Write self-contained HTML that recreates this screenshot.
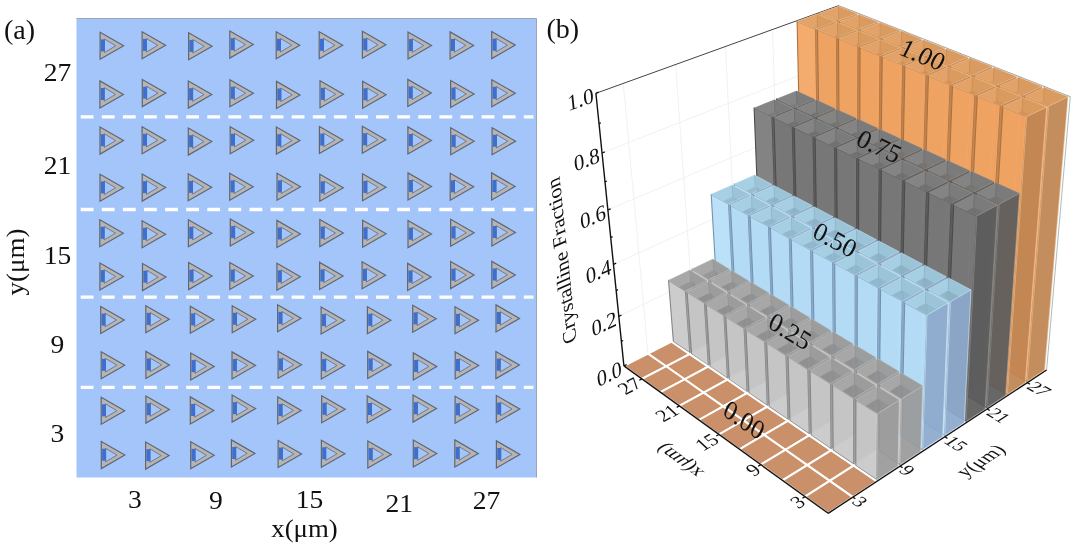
<!DOCTYPE html><html><head><meta charset="utf-8"><title>figure</title><style>html,body{margin:0;padding:0;background:#fff}body{width:1079px;height:548px;overflow:hidden;position:relative}</style></head><body>
<svg width="1079" height="548" viewBox="0 0 1079 548" style="position:absolute;left:0;top:0">
<rect width="1079" height="548" fill="#fff"/>
<g id="panel-a">
<rect x="76.5" y="18" width="460" height="459.5" fill="#a4c5f9"/>
<path d="M76.5 18.5H536.5V477.5" fill="none" stroke="#9aa6b8" stroke-width="1"/>
<defs><g id="tri"><polygon points="0.5,-13.5 0.5,13.5 24,0" fill="#b7b5b4" stroke="#5f6775" stroke-width="1.2" stroke-linejoin="miter"/><polygon points="4.8,-6.8 4.8,6.8 16.2,0" fill="#a4c5f9" stroke="#6c7485" stroke-width="0.9"/><rect x="1.3" y="-6.4" width="4"  height="12" fill="#3d6fd0"/></g></defs>
<use href="#tri" x="99.6" y="45.8"/>
<use href="#tri" x="141.6" y="45.3"/>
<use href="#tri" x="188.1" y="46.3"/>
<use href="#tri" x="229.3" y="44.6"/>
<use href="#tri" x="275.7" y="45.2"/>
<use href="#tri" x="318.7" y="45.2"/>
<use href="#tri" x="361.9" y="44.8"/>
<use href="#tri" x="407.5" y="45.5"/>
<use href="#tri" x="449.6" y="45.4"/>
<use href="#tri" x="491.2" y="45.1"/>
<use href="#tri" x="99.4" y="94.4"/>
<use href="#tri" x="141.8" y="93.1"/>
<use href="#tri" x="187.8" y="94.6"/>
<use href="#tri" x="229.4" y="93.2"/>
<use href="#tri" x="276.0" y="94.9"/>
<use href="#tri" x="319.5" y="94.3"/>
<use href="#tri" x="362.1" y="94.7"/>
<use href="#tri" x="407.3" y="92.9"/>
<use href="#tri" x="450.1" y="94.0"/>
<use href="#tri" x="491.3" y="93.2"/>
<use href="#tri" x="99.5" y="140.6"/>
<use href="#tri" x="141.6" y="140.2"/>
<use href="#tri" x="187.8" y="141.6"/>
<use href="#tri" x="229.7" y="140.2"/>
<use href="#tri" x="275.9" y="140.6"/>
<use href="#tri" x="318.9" y="140.0"/>
<use href="#tri" x="361.8" y="139.7"/>
<use href="#tri" x="407.4" y="140.4"/>
<use href="#tri" x="450.2" y="141.3"/>
<use href="#tri" x="491.6" y="141.2"/>
<use href="#tri" x="99.5" y="187.8"/>
<use href="#tri" x="141.7" y="187.6"/>
<use href="#tri" x="187.7" y="187.3"/>
<use href="#tri" x="229.2" y="186.8"/>
<use href="#tri" x="276.5" y="186.8"/>
<use href="#tri" x="319.3" y="187.8"/>
<use href="#tri" x="362.0" y="187.3"/>
<use href="#tri" x="407.5" y="186.4"/>
<use href="#tri" x="449.7" y="186.7"/>
<use href="#tri" x="491.1" y="186.4"/>
<use href="#tri" x="99.3" y="233.2"/>
<use href="#tri" x="141.6" y="234.2"/>
<use href="#tri" x="187.9" y="233.2"/>
<use href="#tri" x="229.8" y="232.5"/>
<use href="#tri" x="276.4" y="233.9"/>
<use href="#tri" x="319.3" y="233.1"/>
<use href="#tri" x="362.1" y="233.7"/>
<use href="#tri" x="407.5" y="234.1"/>
<use href="#tri" x="450.1" y="232.8"/>
<use href="#tri" x="491.4" y="232.4"/>
<use href="#tri" x="99.4" y="276.5"/>
<use href="#tri" x="142.0" y="277.1"/>
<use href="#tri" x="188.1" y="276.1"/>
<use href="#tri" x="229.3" y="276.0"/>
<use href="#tri" x="276.4" y="276.7"/>
<use href="#tri" x="319.1" y="275.9"/>
<use href="#tri" x="361.6" y="275.2"/>
<use href="#tri" x="407.1" y="276.9"/>
<use href="#tri" x="450.1" y="275.1"/>
<use href="#tri" x="491.3" y="274.9"/>
<use href="#tri" x="100.2" y="320.0"/>
<use href="#tri" x="145.3" y="319.3"/>
<use href="#tri" x="189.8" y="319.8"/>
<use href="#tri" x="231.7" y="319.2"/>
<use href="#tri" x="277.1" y="318.3"/>
<use href="#tri" x="320.6" y="320.5"/>
<use href="#tri" x="366.9" y="320.2"/>
<use href="#tri" x="412.2" y="318.8"/>
<use href="#tri" x="454.5" y="320.3"/>
<use href="#tri" x="495.5" y="318.4"/>
<use href="#tri" x="100.7" y="365.2"/>
<use href="#tri" x="145.4" y="364.9"/>
<use href="#tri" x="190.2" y="366.5"/>
<use href="#tri" x="231.5" y="365.4"/>
<use href="#tri" x="277.6" y="364.8"/>
<use href="#tri" x="320.8" y="365.5"/>
<use href="#tri" x="367.2" y="364.9"/>
<use href="#tri" x="412.8" y="366.4"/>
<use href="#tri" x="454.7" y="365.4"/>
<use href="#tri" x="495.4" y="365.1"/>
<use href="#tri" x="100.7" y="410.7"/>
<use href="#tri" x="145.4" y="409.6"/>
<use href="#tri" x="189.8" y="410.4"/>
<use href="#tri" x="231.6" y="408.6"/>
<use href="#tri" x="277.2" y="410.4"/>
<use href="#tri" x="321.2" y="409.2"/>
<use href="#tri" x="366.7" y="409.4"/>
<use href="#tri" x="412.5" y="408.6"/>
<use href="#tri" x="454.6" y="409.7"/>
<use href="#tri" x="495.8" y="409.0"/>
<use href="#tri" x="100.8" y="455.1"/>
<use href="#tri" x="145.1" y="455.6"/>
<use href="#tri" x="190.2" y="455.3"/>
<use href="#tri" x="230.9" y="453.4"/>
<use href="#tri" x="277.6" y="454.0"/>
<use href="#tri" x="320.9" y="453.7"/>
<use href="#tri" x="367.3" y="454.5"/>
<use href="#tri" x="412.8" y="453.5"/>
<use href="#tri" x="454.3" y="453.4"/>
<use href="#tri" x="495.9" y="454.4"/>
<line x1="80.7" y1="116.8" x2="533.5" y2="116.8" stroke="#fff" stroke-width="3.3" stroke-dasharray="12.8 8.3"/>
<line x1="80.7" y1="209.5" x2="533.5" y2="209.5" stroke="#fff" stroke-width="3.3" stroke-dasharray="12.8 8.3"/>
<line x1="80.7" y1="297.1" x2="533.5" y2="297.1" stroke="#fff" stroke-width="3.3" stroke-dasharray="12.8 8.3"/>
<line x1="80.7" y1="387.3" x2="533.5" y2="387.3" stroke="#fff" stroke-width="3.3" stroke-dasharray="12.8 8.3"/>
</g>
<text transform="translate(4.0 39.0) scale(1 1)" font-size="28" text-anchor="start" font-family="'Liberation Serif',serif" fill="#111">(a)</text>
<text transform="translate(546.5 38.3) scale(1 1)" font-size="28" text-anchor="start" font-family="'Liberation Serif',serif" fill="#111">(b)</text>
<text transform="translate(57.5 81.2) scale(1.06 1)" font-size="26" text-anchor="middle" font-family="'Liberation Serif',serif" fill="#111">27</text>
<text transform="translate(57.5 174.2) scale(1.06 1)" font-size="26" text-anchor="middle" font-family="'Liberation Serif',serif" fill="#111">21</text>
<text transform="translate(57.5 264.0) scale(1.06 1)" font-size="26" text-anchor="middle" font-family="'Liberation Serif',serif" fill="#111">15</text>
<text transform="translate(57.5 353.0) scale(1.06 1)" font-size="26" text-anchor="middle" font-family="'Liberation Serif',serif" fill="#111">9</text>
<text transform="translate(57.5 442.2) scale(1.06 1)" font-size="26" text-anchor="middle" font-family="'Liberation Serif',serif" fill="#111">3</text>
<text transform="translate(135.0 507.7) scale(1.06 1)" font-size="26" text-anchor="middle" font-family="'Liberation Serif',serif" fill="#111">3</text>
<text transform="translate(216.0 508.7) scale(1.06 1)" font-size="26" text-anchor="middle" font-family="'Liberation Serif',serif" fill="#111">9</text>
<text transform="translate(309.5 507.7) scale(1.06 1)" font-size="26" text-anchor="middle" font-family="'Liberation Serif',serif" fill="#111">15</text>
<text transform="translate(399.3 511.7) scale(1.06 1)" font-size="26" text-anchor="middle" font-family="'Liberation Serif',serif" fill="#111">21</text>
<text transform="translate(486.5 508.7) scale(1.06 1)" font-size="26" text-anchor="middle" font-family="'Liberation Serif',serif" fill="#111">27</text>
<text transform="translate(304.5 536.5) scale(1.08 1)" font-size="24.8" text-anchor="middle" font-family="'Liberation Serif',serif" fill="#111">x(μm)</text>
<text transform="translate(23.5,262) rotate(-90) scale(1.08 1)" font-size="25" text-anchor="middle" font-family="'Liberation Serif',serif" fill="#111">y(μm)</text>
<g id="panel-b">
<polygon points="623.9,365.9 840.1,255.9 838.7,5.6 595.9,93.3" fill="#fff"/>
<polygon points="1046.6,370.0 840.1,255.9 838.7,5.6 1070.3,96.7" fill="#fff"/>
<line x1="618.8" y1="316.3" x2="839.8" y2="209.8" stroke="#eeeeee" stroke-width="0.8"/>
<line x1="839.8" y1="209.8" x2="1050.9" y2="320.2" stroke="#eeeeee" stroke-width="0.8"/>
<line x1="613.5" y1="264.3" x2="839.6" y2="161.8" stroke="#eeeeee" stroke-width="0.8"/>
<line x1="839.6" y1="161.8" x2="1055.4" y2="268.2" stroke="#eeeeee" stroke-width="0.8"/>
<line x1="607.9" y1="209.9" x2="839.3" y2="111.9" stroke="#eeeeee" stroke-width="0.8"/>
<line x1="839.3" y1="111.9" x2="1060.1" y2="213.7" stroke="#eeeeee" stroke-width="0.8"/>
<line x1="602.1" y1="153.0" x2="839.0" y2="59.8" stroke="#eeeeee" stroke-width="0.8"/>
<line x1="839.0" y1="59.8" x2="1065.1" y2="156.6" stroke="#eeeeee" stroke-width="0.8"/>
<line x1="648.0" y1="353.7" x2="623.3" y2="83.4" stroke="#eeeeee" stroke-width="0.8"/>
<line x1="1023.6" y1="357.3" x2="1044.1" y2="86.4" stroke="#eeeeee" stroke-width="0.8"/>
<line x1="694.4" y1="330.1" x2="675.7" y2="64.4" stroke="#eeeeee" stroke-width="0.8"/>
<line x1="979.2" y1="332.7" x2="993.9" y2="66.7" stroke="#eeeeee" stroke-width="0.8"/>
<line x1="738.5" y1="307.6" x2="725.4" y2="46.5" stroke="#eeeeee" stroke-width="0.8"/>
<line x1="937.0" y1="309.4" x2="946.5" y2="48.0" stroke="#eeeeee" stroke-width="0.8"/>
<line x1="780.6" y1="286.2" x2="772.5" y2="29.5" stroke="#eeeeee" stroke-width="0.8"/>
<line x1="896.8" y1="287.2" x2="901.6" y2="30.3" stroke="#eeeeee" stroke-width="0.8"/>
<line x1="820.7" y1="265.8" x2="817.1" y2="13.3" stroke="#eeeeee" stroke-width="0.8"/>
<line x1="858.6" y1="266.1" x2="859.1" y2="13.6" stroke="#eeeeee" stroke-width="0.8"/>
<line x1="595.9" y1="93.3" x2="838.7" y2="5.6" stroke="#444" stroke-width="1"/>
<line x1="838.7" y1="5.6" x2="1070.3" y2="96.7" stroke="#888" stroke-width="0.8"/>
<line x1="1070.3" y1="96.7" x2="1046.6" y2="370.0" stroke="#9aa" stroke-width="0.8"/>
<polygon points="828.2,513.3 623.9,365.9 840.1,255.9 1046.6,370.0" fill="#f4f4f4"/>
<polygon points="839.2,275.2 822.5,265.8 819.1,13.3 837.6,20.8" fill="#f2a563" stroke="#ad713d" stroke-width="1.1" stroke-linejoin="round" fill-opacity="0.93"/>
<polygon points="839.2,275.2 856.8,266.1 857.1,13.6 837.6,20.8" fill="#bf8452" stroke="#bf8452" stroke-width="0.3" stroke-linejoin="round" fill-opacity="0.93" stroke-opacity="0.75"/>
<polygon points="837.6,20.8 819.1,13.3 838.6,6.3 857.1,13.6" fill="#d39255" fill-opacity="0.93"/>
<polygon points="819.1,13.3 819.1,13.3 838.6,6.3 838.7,18.7 835.4,19.9" fill="#e3a46a" fill-opacity="0.9"/>
<polygon points="838.6,6.3 857.1,13.6 857.1,13.6 840.9,19.6 838.7,18.7" fill="#da9b61" fill-opacity="0.9"/>
<line x1="838.6" y1="6.3" x2="838.7" y2="18.7" stroke="#ad713d" stroke-width="0.5" stroke-opacity="0.5"/>
<polygon points="837.6,20.8 819.1,13.3 838.6,6.3 857.1,13.6" fill="none" stroke="#f3cca6" stroke-width="0.7" stroke-linejoin="round" stroke-opacity="0.55"/>
<polygon points="858.1,285.9 840.9,276.2 839.6,21.6 858.6,29.3" fill="#f2a563" stroke="#ad713d" stroke-width="1.1" stroke-linejoin="round" fill-opacity="0.93"/>
<polygon points="858.1,285.9 875.7,276.5 878.1,21.9 858.6,29.3" fill="#bf8452" stroke="#bf8452" stroke-width="0.3" stroke-linejoin="round" fill-opacity="0.93" stroke-opacity="0.75"/>
<polygon points="858.6,29.3 839.6,21.6 859.1,14.4 878.1,21.9" fill="#d39255" fill-opacity="0.93"/>
<polygon points="839.6,21.6 839.6,21.6 859.1,14.4 859.0,26.9 855.8,28.1" fill="#e3a46a" fill-opacity="0.9"/>
<polygon points="859.1,14.4 878.1,21.9 878.1,21.9 861.9,28.0 859.0,26.9" fill="#da9b61" fill-opacity="0.9"/>
<line x1="859.1" y1="14.4" x2="859.0" y2="26.9" stroke="#ad713d" stroke-width="0.5" stroke-opacity="0.5"/>
<polygon points="858.6,29.3 839.6,21.6 859.1,14.4 878.1,21.9" fill="none" stroke="#f3cca6" stroke-width="0.7" stroke-linejoin="round" stroke-opacity="0.55"/>
<polygon points="877.4,296.8 859.9,286.9 860.6,30.1 880.1,38.0" fill="#f2a563" stroke="#ad713d" stroke-width="1.1" stroke-linejoin="round" fill-opacity="0.93"/>
<polygon points="877.4,296.8 895.0,287.2 899.6,30.3 880.1,38.0" fill="#bf8452" stroke="#bf8452" stroke-width="0.3" stroke-linejoin="round" fill-opacity="0.93" stroke-opacity="0.75"/>
<polygon points="880.1,38.0 860.6,30.1 880.1,22.6 899.6,30.3" fill="#d39255" fill-opacity="0.93"/>
<polygon points="860.6,30.1 860.6,30.1 860.6,30.1 880.1,22.6 880.0,35.3 876.7,36.6" fill="#e3a46a" fill-opacity="0.9"/>
<polygon points="880.1,22.6 899.6,30.3 899.6,30.3 883.4,36.7 880.0,35.3" fill="#da9b61" fill-opacity="0.9"/>
<line x1="880.1" y1="22.6" x2="880.0" y2="35.3" stroke="#ad713d" stroke-width="0.5" stroke-opacity="0.5"/>
<polygon points="880.1,38.0 860.6,30.1 880.1,22.6 899.6,30.3" fill="none" stroke="#f3cca6" stroke-width="0.7" stroke-linejoin="round" stroke-opacity="0.55"/>
<polygon points="897.2,308.0 879.2,297.9 882.1,38.8 902.2,46.9" fill="#f2a563" stroke="#ad713d" stroke-width="1.1" stroke-linejoin="round" fill-opacity="0.93"/>
<polygon points="897.2,308.0 914.8,298.2 921.7,39.0 902.2,46.9" fill="#bf8452" stroke="#bf8452" stroke-width="0.3" stroke-linejoin="round" fill-opacity="0.93" stroke-opacity="0.75"/>
<polygon points="902.2,46.9 882.1,38.8 901.7,31.1 921.7,39.0" fill="#d39255" fill-opacity="0.93"/>
<polygon points="882.1,38.8 882.1,38.8 901.7,31.1 901.4,43.9 898.1,45.2" fill="#e3a46a" fill-opacity="0.9"/>
<polygon points="901.7,31.1 921.7,39.0 921.7,39.0 905.5,45.6 901.4,43.9" fill="#da9b61" fill-opacity="0.9"/>
<line x1="901.7" y1="31.1" x2="901.4" y2="43.9" stroke="#ad713d" stroke-width="0.5" stroke-opacity="0.5"/>
<polygon points="902.2,46.9 882.1,38.8 901.7,31.1 921.7,39.0" fill="none" stroke="#f3cca6" stroke-width="0.7" stroke-linejoin="round" stroke-opacity="0.55"/>
<polygon points="917.5,319.5 899.1,309.1 904.3,47.7 924.9,56.0" fill="#f2a563" stroke="#ad713d" stroke-width="1.1" stroke-linejoin="round" fill-opacity="0.93"/>
<polygon points="917.5,319.5 935.1,309.4 944.4,48.0 924.9,56.0" fill="#bf8452" stroke="#bf8452" stroke-width="0.3" stroke-linejoin="round" fill-opacity="0.93" stroke-opacity="0.75"/>
<polygon points="924.9,56.0 904.3,47.7 923.8,39.9 944.4,48.0" fill="#d39255" fill-opacity="0.93"/>
<polygon points="904.3,47.7 904.3,47.7 923.8,39.9 923.5,52.8 920.2,54.1" fill="#e3a46a" fill-opacity="0.9"/>
<polygon points="923.8,39.9 944.4,48.0 944.4,48.0 928.2,54.7 923.5,52.8" fill="#da9b61" fill-opacity="0.9"/>
<line x1="923.8" y1="39.9" x2="923.5" y2="52.8" stroke="#ad713d" stroke-width="0.5" stroke-opacity="0.5"/>
<polygon points="924.9,56.0 904.3,47.7 923.8,39.9 944.4,48.0" fill="none" stroke="#f3cca6" stroke-width="0.7" stroke-linejoin="round" stroke-opacity="0.55"/>
<polygon points="938.3,331.3 919.4,320.6 927.1,56.9 948.3,65.5" fill="#f2a563" stroke="#ad713d" stroke-width="1.1" stroke-linejoin="round" fill-opacity="0.93"/>
<polygon points="938.3,331.3 955.9,320.9 967.8,57.2 948.3,65.5" fill="#bf8452" stroke="#bf8452" stroke-width="0.3" stroke-linejoin="round" fill-opacity="0.93" stroke-opacity="0.75"/>
<polygon points="948.3,65.5 927.1,56.9 946.6,48.8 967.8,57.2" fill="#d39255" fill-opacity="0.93"/>
<polygon points="927.1,56.9 927.1,56.9 946.6,48.8 946.1,61.9 942.8,63.3" fill="#e3a46a" fill-opacity="0.9"/>
<polygon points="946.6,48.8 967.8,57.2 967.8,57.2 951.5,64.1 946.1,61.9" fill="#da9b61" fill-opacity="0.9"/>
<line x1="946.6" y1="48.8" x2="946.1" y2="61.9" stroke="#ad713d" stroke-width="0.5" stroke-opacity="0.5"/>
<polygon points="948.3,65.5 927.1,56.9 946.6,48.8 967.8,57.2" fill="none" stroke="#f3cca6" stroke-width="0.7" stroke-linejoin="round" stroke-opacity="0.55"/>
<polygon points="959.7,343.3 940.3,332.4 950.5,66.4 972.3,75.2" fill="#f2a563" stroke="#ad713d" stroke-width="1.1" stroke-linejoin="round" fill-opacity="0.93"/>
<polygon points="959.7,343.3 977.3,332.7 991.8,66.6 972.3,75.2" fill="#bf8452" stroke="#bf8452" stroke-width="0.3" stroke-linejoin="round" fill-opacity="0.93" stroke-opacity="0.75"/>
<polygon points="972.3,75.2 950.5,66.4 970.0,58.1 991.8,66.6" fill="#d39255" fill-opacity="0.93"/>
<polygon points="950.5,66.4 950.5,66.4 970.0,58.1 969.4,71.2 966.1,72.7" fill="#e3a46a" fill-opacity="0.9"/>
<polygon points="970.0,58.1 991.8,66.6 991.8,66.6 975.6,73.7 969.4,71.2" fill="#da9b61" fill-opacity="0.9"/>
<line x1="970.0" y1="58.1" x2="969.4" y2="71.2" stroke="#ad713d" stroke-width="0.5" stroke-opacity="0.5"/>
<polygon points="972.3,75.2 950.5,66.4 970.0,58.1 991.8,66.6" fill="none" stroke="#f3cca6" stroke-width="0.7" stroke-linejoin="round" stroke-opacity="0.55"/>
<polygon points="981.6,355.7 961.7,344.5 974.6,76.1 997.0,85.1" fill="#f2a563" stroke="#ad713d" stroke-width="1.1" stroke-linejoin="round" fill-opacity="0.93"/>
<polygon points="981.6,355.7 999.2,344.8 1016.5,76.4 997.0,85.1" fill="#bf8452" stroke="#bf8452" stroke-width="0.3" stroke-linejoin="round" fill-opacity="0.93" stroke-opacity="0.75"/>
<polygon points="997.0,85.1 974.6,76.1 994.1,67.5 1016.5,76.4" fill="#d39255" fill-opacity="0.93"/>
<polygon points="974.6,76.1 974.6,76.1 994.1,67.5 993.3,80.9 990.0,82.3" fill="#e3a46a" fill-opacity="0.9"/>
<polygon points="994.1,67.5 1016.5,76.4 1016.5,76.4 1000.3,83.7 993.3,80.9" fill="#da9b61" fill-opacity="0.9"/>
<line x1="994.1" y1="67.5" x2="993.3" y2="80.9" stroke="#ad713d" stroke-width="0.5" stroke-opacity="0.5"/>
<polygon points="997.0,85.1 974.6,76.1 994.1,67.5 1016.5,76.4" fill="none" stroke="#f3cca6" stroke-width="0.7" stroke-linejoin="round" stroke-opacity="0.55"/>
<polygon points="1004.1,368.4 983.7,356.9 999.4,86.1 1022.5,95.4" fill="#f2a563" stroke="#ad713d" stroke-width="1.1" stroke-linejoin="round" fill-opacity="0.93"/>
<polygon points="1004.1,368.4 1021.6,357.2 1041.9,86.4 1022.5,95.4" fill="#bf8452" stroke="#bf8452" stroke-width="0.3" stroke-linejoin="round" fill-opacity="0.93" stroke-opacity="0.75"/>
<polygon points="1022.5,95.4 999.4,86.1 1018.8,77.3 1041.9,86.4" fill="#d39255" fill-opacity="0.93"/>
<polygon points="999.4,86.1 999.4,86.1 1018.8,77.3 1017.9,90.8 1014.7,92.3" fill="#e3a46a" fill-opacity="0.9"/>
<polygon points="1018.8,77.3 1041.9,86.4 1041.9,86.4 1025.7,93.9 1017.9,90.8" fill="#da9b61" fill-opacity="0.9"/>
<line x1="1018.8" y1="77.3" x2="1017.9" y2="90.8" stroke="#ad713d" stroke-width="0.5" stroke-opacity="0.5"/>
<polygon points="1022.5,95.4 999.4,86.1 1018.8,77.3 1041.9,86.4" fill="none" stroke="#f3cca6" stroke-width="0.7" stroke-linejoin="round" stroke-opacity="0.55"/>
<polygon points="1027.1,381.4 1006.2,369.6 1024.9,96.4 1048.7,106.0" fill="#f2a563" stroke="#ad713d" stroke-width="1.1" stroke-linejoin="round" fill-opacity="0.93"/>
<polygon points="1027.1,381.4 1044.6,370.0 1068.0,96.7 1048.7,106.0" fill="#bf8452" stroke="#f3cca6" stroke-width="0.8" stroke-linejoin="round" fill-opacity="0.93" stroke-opacity="0.75"/>
<polygon points="1048.7,106.0 1024.9,96.4 1044.3,87.3 1068.0,96.7" fill="#d39255" fill-opacity="0.93"/>
<polygon points="1024.9,96.4 1024.9,96.4 1044.3,87.3 1043.3,100.9 1040.0,102.5" fill="#e3a46a" fill-opacity="0.9"/>
<polygon points="1044.3,87.3 1068.0,96.7 1068.0,96.7 1051.9,104.4 1043.3,100.9" fill="#da9b61" fill-opacity="0.9"/>
<line x1="1044.3" y1="87.3" x2="1043.3" y2="100.9" stroke="#ad713d" stroke-width="0.5" stroke-opacity="0.5"/>
<polygon points="1048.7,106.0 1024.9,96.4 1044.3,87.3 1068.0,96.7" fill="none" stroke="#f3cca6" stroke-width="0.7" stroke-linejoin="round" stroke-opacity="0.55"/>
<polygon points="819.4,285.6 802.7,275.9 797.1,21.3 815.6,29.0" fill="#f2a563" stroke="#ad713d" stroke-width="1.1" stroke-linejoin="round" fill-opacity="0.93"/>
<polygon points="819.4,285.6 837.4,276.2 835.6,21.6 815.6,29.0" fill="#bf8452" stroke="#bf8452" stroke-width="0.3" stroke-linejoin="round" fill-opacity="0.93" stroke-opacity="0.75"/>
<polygon points="815.6,29.0 797.1,21.3 817.1,14.1 835.6,21.6" fill="#d39255" fill-opacity="0.93"/>
<polygon points="797.1,21.3 797.1,21.3 797.1,21.3 817.1,14.1 817.2,26.6 813.3,28.1" fill="#e3a46a" fill-opacity="0.9"/>
<polygon points="817.1,14.1 835.6,21.6 835.6,21.6 819.5,27.5 817.2,26.6" fill="#da9b61" fill-opacity="0.9"/>
<line x1="817.1" y1="14.1" x2="817.2" y2="26.6" stroke="#ad713d" stroke-width="0.5" stroke-opacity="0.5"/>
<polygon points="815.6,29.0 797.1,21.3 817.1,14.1 835.6,21.6" fill="none" stroke="#f3cca6" stroke-width="0.7" stroke-linejoin="round" stroke-opacity="0.55"/>
<polygon points="838.2,296.5 821.1,286.6 817.5,29.8 836.5,37.7" fill="#f2a563" stroke="#ad713d" stroke-width="1.1" stroke-linejoin="round" fill-opacity="0.93"/>
<polygon points="838.2,296.5 856.2,286.9 856.5,30.0 836.5,37.7" fill="#bf8452" stroke="#bf8452" stroke-width="0.3" stroke-linejoin="round" fill-opacity="0.93" stroke-opacity="0.75"/>
<polygon points="836.5,37.7 817.5,29.8 837.5,22.4 856.5,30.0" fill="#d39255" fill-opacity="0.93"/>
<polygon points="817.5,29.8 817.5,29.8 837.5,22.4 837.6,35.0 833.7,36.5" fill="#e3a46a" fill-opacity="0.9"/>
<polygon points="837.5,22.4 856.5,30.0 856.5,30.0 840.4,36.2 837.6,35.0" fill="#da9b61" fill-opacity="0.9"/>
<line x1="837.5" y1="22.4" x2="837.6" y2="35.0" stroke="#ad713d" stroke-width="0.5" stroke-opacity="0.5"/>
<polygon points="836.5,37.7 817.5,29.8 837.5,22.4 856.5,30.0" fill="none" stroke="#f3cca6" stroke-width="0.7" stroke-linejoin="round" stroke-opacity="0.55"/>
<polygon points="857.5,307.7 840.0,297.5 838.5,38.5 858.0,46.6" fill="#f2a563" stroke="#ad713d" stroke-width="1.1" stroke-linejoin="round" fill-opacity="0.93"/>
<polygon points="857.5,307.7 875.6,297.8 878.0,38.7 858.0,46.6" fill="#bf8452" stroke="#bf8452" stroke-width="0.3" stroke-linejoin="round" fill-opacity="0.93" stroke-opacity="0.75"/>
<polygon points="858.0,46.6 838.5,38.5 858.5,30.8 878.0,38.7" fill="#d39255" fill-opacity="0.93"/>
<polygon points="838.5,38.5 838.5,38.5 858.5,30.8 858.5,43.6 854.6,45.2" fill="#e3a46a" fill-opacity="0.9"/>
<polygon points="858.5,30.8 878.0,38.7 878.0,38.7 861.9,45.0 858.5,43.6" fill="#da9b61" fill-opacity="0.9"/>
<line x1="858.5" y1="30.8" x2="858.5" y2="43.6" stroke="#ad713d" stroke-width="0.5" stroke-opacity="0.5"/>
<polygon points="858.0,46.6 838.5,38.5 858.5,30.8 878.0,38.7" fill="none" stroke="#f3cca6" stroke-width="0.7" stroke-linejoin="round" stroke-opacity="0.55"/>
<polygon points="877.3,319.1 859.4,308.7 860.0,47.4 880.1,55.7" fill="#f2a563" stroke="#ad713d" stroke-width="1.1" stroke-linejoin="round" fill-opacity="0.93"/>
<polygon points="877.3,319.1 895.4,309.1 900.1,47.7 880.1,55.7" fill="#bf8452" stroke="#bf8452" stroke-width="0.3" stroke-linejoin="round" fill-opacity="0.93" stroke-opacity="0.75"/>
<polygon points="880.1,55.7 860.0,47.4 880.1,39.6 900.1,47.7" fill="#d39255" fill-opacity="0.93"/>
<polygon points="860.0,47.4 860.0,47.4 860.0,47.4 880.1,39.6 879.9,52.5 876.0,54.0" fill="#e3a46a" fill-opacity="0.9"/>
<polygon points="880.1,39.6 900.1,47.7 900.1,47.7 884.0,54.2 879.9,52.5" fill="#da9b61" fill-opacity="0.9"/>
<line x1="880.1" y1="39.6" x2="879.9" y2="52.5" stroke="#ad713d" stroke-width="0.5" stroke-opacity="0.5"/>
<polygon points="880.1,55.7 860.0,47.4 880.1,39.6 900.1,47.7" fill="none" stroke="#f3cca6" stroke-width="0.7" stroke-linejoin="round" stroke-opacity="0.55"/>
<polygon points="897.6,330.9 879.2,320.2 882.2,56.6 902.8,65.1" fill="#f2a563" stroke="#ad713d" stroke-width="1.1" stroke-linejoin="round" fill-opacity="0.93"/>
<polygon points="897.6,330.9 915.7,320.6 922.9,56.9 902.8,65.1" fill="#bf8452" stroke="#bf8452" stroke-width="0.3" stroke-linejoin="round" fill-opacity="0.93" stroke-opacity="0.75"/>
<polygon points="902.8,65.1 882.2,56.6 902.2,48.5 922.9,56.9" fill="#d39255" fill-opacity="0.93"/>
<polygon points="882.2,56.6 882.2,56.6 902.2,48.5 902.0,61.6 898.1,63.2" fill="#e3a46a" fill-opacity="0.9"/>
<polygon points="902.2,48.5 922.9,56.9 922.9,56.9 906.7,63.5 902.0,61.6" fill="#da9b61" fill-opacity="0.9"/>
<line x1="902.2" y1="48.5" x2="902.0" y2="61.6" stroke="#ad713d" stroke-width="0.5" stroke-opacity="0.5"/>
<polygon points="902.8,65.1 882.2,56.6 902.2,48.5 922.9,56.9" fill="none" stroke="#f3cca6" stroke-width="0.7" stroke-linejoin="round" stroke-opacity="0.55"/>
<polygon points="918.5,342.9 899.6,332.0 904.9,66.0 926.2,74.8" fill="#f2a563" stroke="#ad713d" stroke-width="1.1" stroke-linejoin="round" fill-opacity="0.93"/>
<polygon points="918.5,342.9 936.5,332.3 946.2,66.3 926.2,74.8" fill="#bf8452" stroke="#bf8452" stroke-width="0.3" stroke-linejoin="round" fill-opacity="0.93" stroke-opacity="0.75"/>
<polygon points="926.2,74.8 904.9,66.0 925.0,57.7 946.2,66.3" fill="#d39255" fill-opacity="0.93"/>
<polygon points="904.9,66.0 904.9,66.0 925.0,57.7 924.6,70.9 920.7,72.6" fill="#e3a46a" fill-opacity="0.9"/>
<polygon points="925.0,57.7 946.2,66.3 946.2,66.3 930.1,73.2 924.6,70.9" fill="#da9b61" fill-opacity="0.9"/>
<line x1="925.0" y1="57.7" x2="924.6" y2="70.9" stroke="#ad713d" stroke-width="0.5" stroke-opacity="0.5"/>
<polygon points="926.2,74.8 904.9,66.0 925.0,57.7 946.2,66.3" fill="none" stroke="#f3cca6" stroke-width="0.7" stroke-linejoin="round" stroke-opacity="0.55"/>
<polygon points="939.8,355.3 920.4,344.1 928.4,75.7 950.2,84.8" fill="#f2a563" stroke="#ad713d" stroke-width="1.1" stroke-linejoin="round" fill-opacity="0.93"/>
<polygon points="939.8,355.3 957.9,344.4 970.3,76.0 950.2,84.8" fill="#bf8452" stroke="#bf8452" stroke-width="0.3" stroke-linejoin="round" fill-opacity="0.93" stroke-opacity="0.75"/>
<polygon points="950.2,84.8 928.4,75.7 948.4,67.2 970.3,76.0" fill="#d39255" fill-opacity="0.93"/>
<polygon points="928.4,75.7 928.4,75.7 948.4,67.2 947.9,80.5 944.0,82.2" fill="#e3a46a" fill-opacity="0.9"/>
<polygon points="948.4,67.2 970.3,76.0 970.3,76.0 954.1,83.1 947.9,80.5" fill="#da9b61" fill-opacity="0.9"/>
<line x1="948.4" y1="67.2" x2="947.9" y2="80.5" stroke="#ad713d" stroke-width="0.5" stroke-opacity="0.5"/>
<polygon points="950.2,84.8 928.4,75.7 948.4,67.2 970.3,76.0" fill="none" stroke="#f3cca6" stroke-width="0.7" stroke-linejoin="round" stroke-opacity="0.55"/>
<polygon points="961.7,368.0 941.8,356.5 952.5,85.7 975.0,95.1" fill="#f2a563" stroke="#ad713d" stroke-width="1.1" stroke-linejoin="round" fill-opacity="0.93"/>
<polygon points="961.7,368.0 979.8,356.8 995.0,86.0 975.0,95.1" fill="#bf8452" stroke="#bf8452" stroke-width="0.3" stroke-linejoin="round" fill-opacity="0.93" stroke-opacity="0.75"/>
<polygon points="975.0,95.1 952.5,85.7 972.5,77.0 995.0,86.0" fill="#d39255" fill-opacity="0.93"/>
<polygon points="952.5,85.7 952.5,85.7 972.5,77.0 971.9,90.4 968.0,92.2" fill="#e3a46a" fill-opacity="0.9"/>
<polygon points="972.5,77.0 995.0,86.0 995.0,86.0 978.9,93.3 971.9,90.4" fill="#da9b61" fill-opacity="0.9"/>
<line x1="972.5" y1="77.0" x2="971.9" y2="90.4" stroke="#ad713d" stroke-width="0.5" stroke-opacity="0.5"/>
<polygon points="975.0,95.1 952.5,85.7 972.5,77.0 995.0,86.0" fill="none" stroke="#f3cca6" stroke-width="0.7" stroke-linejoin="round" stroke-opacity="0.55"/>
<polygon points="984.2,381.0 963.8,369.2 977.3,96.0 1000.4,105.6" fill="#f2a563" stroke="#ad713d" stroke-width="1.1" stroke-linejoin="round" fill-opacity="0.93"/>
<polygon points="984.2,381.0 1002.2,369.6 1020.4,96.3 1000.4,105.6" fill="#bf8452" stroke="#bf8452" stroke-width="0.3" stroke-linejoin="round" fill-opacity="0.93" stroke-opacity="0.75"/>
<polygon points="1000.4,105.6 977.3,96.0 997.3,87.0 1020.4,96.3" fill="#d39255" fill-opacity="0.93"/>
<polygon points="977.3,96.0 977.3,96.0 997.3,87.0 996.5,100.6 992.6,102.4" fill="#e3a46a" fill-opacity="0.9"/>
<polygon points="997.3,87.0 1020.4,96.3 1020.4,96.3 1004.4,103.8 996.5,100.6" fill="#da9b61" fill-opacity="0.9"/>
<line x1="997.3" y1="87.0" x2="996.5" y2="100.6" stroke="#ad713d" stroke-width="0.5" stroke-opacity="0.5"/>
<polygon points="1000.4,105.6 977.3,96.0 997.3,87.0 1020.4,96.3" fill="none" stroke="#f3cca6" stroke-width="0.7" stroke-linejoin="round" stroke-opacity="0.55"/>
<polygon points="1007.4,394.4 986.4,382.3 1002.9,106.6 1026.7,116.5" fill="#f2a563" stroke="#ad713d" stroke-width="1.1" stroke-linejoin="round" fill-opacity="0.93"/>
<polygon points="1007.4,394.4 1025.3,382.6 1046.7,107.0 1026.7,116.5" fill="#bf8452" stroke="#f3cca6" stroke-width="0.8" stroke-linejoin="round" fill-opacity="0.93" stroke-opacity="0.75"/>
<polygon points="1026.7,116.5 1002.9,106.6 1022.8,97.3 1046.7,107.0" fill="#d39255" fill-opacity="0.93"/>
<polygon points="1002.9,106.6 1002.9,106.6 1022.8,97.3 1021.9,111.1 1018.0,112.9" fill="#e3a46a" fill-opacity="0.9"/>
<polygon points="1022.8,97.3 1046.7,107.0 1046.7,107.0 1030.6,114.6 1021.9,111.1" fill="#da9b61" fill-opacity="0.9"/>
<line x1="1022.8" y1="97.3" x2="1021.9" y2="111.1" stroke="#ad713d" stroke-width="0.5" stroke-opacity="0.5"/>
<polygon points="1026.7,116.5 1002.9,106.6 1022.8,97.3 1046.7,107.0" fill="none" stroke="#f3cca6" stroke-width="0.7" stroke-linejoin="round" stroke-opacity="0.55"/>
<polygon points="799.1,296.1 782.4,286.2 776.6,98.9 794.6,107.4" fill="#7a7a7a" stroke="#4c4c4c" stroke-width="1.1" stroke-linejoin="round" fill-opacity="0.93"/>
<polygon points="799.1,296.1 817.5,286.5 814.6,99.2 794.6,107.4" fill="#5b5b5b" stroke="#5b5b5b" stroke-width="0.3" stroke-linejoin="round" fill-opacity="0.93" stroke-opacity="0.75"/>
<polygon points="794.6,107.4 776.6,98.9 796.5,90.9 814.6,99.2" fill="#727272" fill-opacity="0.93"/>
<polygon points="776.6,98.9 776.6,98.9 796.5,90.9 796.8,102.9 790.5,105.4" fill="#868686" fill-opacity="0.9"/>
<polygon points="796.5,90.9 814.6,99.2 814.6,99.2 800.9,104.8 796.8,102.9" fill="#7c7c7c" fill-opacity="0.9"/>
<line x1="796.5" y1="90.9" x2="796.8" y2="102.9" stroke="#4c4c4c" stroke-width="0.5" stroke-opacity="0.5"/>
<polygon points="794.6,107.4 776.6,98.9 796.5,90.9 814.6,99.2" fill="none" stroke="#9a9a9a" stroke-width="0.7" stroke-linejoin="round" stroke-opacity="0.55"/>
<polygon points="817.9,307.3 800.8,297.2 796.5,108.2 814.9,116.9" fill="#7a7a7a" stroke="#4c4c4c" stroke-width="1.1" stroke-linejoin="round" fill-opacity="0.93"/>
<polygon points="817.9,307.3 836.3,297.5 834.9,108.5 814.9,116.9" fill="#5b5b5b" stroke="#5b5b5b" stroke-width="0.3" stroke-linejoin="round" fill-opacity="0.93" stroke-opacity="0.75"/>
<polygon points="814.9,116.9 796.5,108.2 816.4,100.0 834.9,108.5" fill="#727272" fill-opacity="0.93"/>
<polygon points="796.5,108.2 796.5,108.2 816.4,100.0 816.6,112.1 810.3,114.8" fill="#868686" fill-opacity="0.9"/>
<polygon points="816.4,100.0 834.9,108.5 834.9,108.5 821.2,114.3 816.6,112.1" fill="#7c7c7c" fill-opacity="0.9"/>
<line x1="816.4" y1="100.0" x2="816.6" y2="112.1" stroke="#4c4c4c" stroke-width="0.5" stroke-opacity="0.5"/>
<polygon points="814.9,116.9 796.5,108.2 816.4,100.0 834.9,108.5" fill="none" stroke="#9a9a9a" stroke-width="0.7" stroke-linejoin="round" stroke-opacity="0.55"/>
<polygon points="837.2,318.8 819.7,308.4 816.8,117.9 835.8,126.8" fill="#7a7a7a" stroke="#4c4c4c" stroke-width="1.1" stroke-linejoin="round" fill-opacity="0.93"/>
<polygon points="837.2,318.8 855.7,308.7 855.8,118.1 835.8,126.8" fill="#5b5b5b" stroke="#5b5b5b" stroke-width="0.3" stroke-linejoin="round" fill-opacity="0.93" stroke-opacity="0.75"/>
<polygon points="835.8,126.8 816.8,117.9 836.8,109.4 855.8,118.1" fill="#727272" fill-opacity="0.93"/>
<polygon points="816.8,117.9 816.8,117.9 836.8,109.4 836.9,121.6 830.6,124.3" fill="#868686" fill-opacity="0.9"/>
<polygon points="836.8,109.4 855.8,118.1 855.8,118.1 842.1,124.1 836.9,121.6" fill="#7c7c7c" fill-opacity="0.9"/>
<line x1="836.8" y1="109.4" x2="836.9" y2="121.6" stroke="#4c4c4c" stroke-width="0.5" stroke-opacity="0.5"/>
<polygon points="835.8,126.8 816.8,117.9 836.8,109.4 855.8,118.1" fill="none" stroke="#9a9a9a" stroke-width="0.7" stroke-linejoin="round" stroke-opacity="0.55"/>
<polygon points="857.0,330.5 839.0,319.8 837.8,127.7 857.3,136.9" fill="#7a7a7a" stroke="#4c4c4c" stroke-width="1.1" stroke-linejoin="round" fill-opacity="0.93"/>
<polygon points="857.0,330.5 875.5,320.2 877.3,128.0 857.3,136.9" fill="#5b5b5b" stroke="#5b5b5b" stroke-width="0.3" stroke-linejoin="round" fill-opacity="0.93" stroke-opacity="0.75"/>
<polygon points="857.3,136.9 837.8,127.7 857.8,119.1 877.3,128.0" fill="#727272" fill-opacity="0.93"/>
<polygon points="837.8,127.7 837.8,127.7 857.8,119.1 857.8,131.4 851.5,134.2" fill="#868686" fill-opacity="0.9"/>
<polygon points="857.8,119.1 877.3,128.0 877.3,128.0 863.6,134.1 857.8,131.4" fill="#7c7c7c" fill-opacity="0.9"/>
<line x1="857.8" y1="119.1" x2="857.8" y2="131.4" stroke="#4c4c4c" stroke-width="0.5" stroke-opacity="0.5"/>
<polygon points="857.3,136.9 837.8,127.7 857.8,119.1 877.3,128.0" fill="none" stroke="#9a9a9a" stroke-width="0.7" stroke-linejoin="round" stroke-opacity="0.55"/>
<polygon points="877.3,342.6 858.8,331.6 859.3,137.9 879.3,147.3" fill="#7a7a7a" stroke="#4c4c4c" stroke-width="1.1" stroke-linejoin="round" fill-opacity="0.93"/>
<polygon points="877.3,342.6 895.8,332.0 899.4,138.2 879.3,147.3" fill="#5b5b5b" stroke="#5b5b5b" stroke-width="0.3" stroke-linejoin="round" fill-opacity="0.93" stroke-opacity="0.75"/>
<polygon points="879.3,147.3 859.3,137.9 879.3,129.0 899.4,138.2" fill="#727272" fill-opacity="0.93"/>
<polygon points="859.3,137.9 859.3,137.9 879.3,129.0 879.2,141.4 872.9,144.3" fill="#868686" fill-opacity="0.9"/>
<polygon points="879.3,129.0 899.4,138.2 899.4,138.2 885.6,144.4 879.2,141.4" fill="#7c7c7c" fill-opacity="0.9"/>
<line x1="879.3" y1="129.0" x2="879.2" y2="141.4" stroke="#4c4c4c" stroke-width="0.5" stroke-opacity="0.5"/>
<polygon points="879.3,147.3 859.3,137.9 879.3,129.0 899.4,138.2" fill="none" stroke="#9a9a9a" stroke-width="0.7" stroke-linejoin="round" stroke-opacity="0.55"/>
<polygon points="898.1,354.9 879.2,343.7 881.4,148.3 902.0,158.0" fill="#7a7a7a" stroke="#4c4c4c" stroke-width="1.1" stroke-linejoin="round" fill-opacity="0.93"/>
<polygon points="898.1,354.9 916.6,344.0 922.0,148.6 902.0,158.0" fill="#5b5b5b" stroke="#5b5b5b" stroke-width="0.3" stroke-linejoin="round" fill-opacity="0.93" stroke-opacity="0.75"/>
<polygon points="902.0,158.0 881.4,148.3 901.4,139.1 922.0,148.6" fill="#727272" fill-opacity="0.93"/>
<polygon points="881.4,148.3 881.4,148.3 901.4,139.1 901.2,151.7 894.9,154.6" fill="#868686" fill-opacity="0.9"/>
<polygon points="901.4,139.1 922.0,148.6 922.0,148.6 908.3,155.0 901.2,151.7" fill="#7c7c7c" fill-opacity="0.9"/>
<line x1="901.4" y1="139.1" x2="901.2" y2="151.7" stroke="#4c4c4c" stroke-width="0.5" stroke-opacity="0.5"/>
<polygon points="902.0,158.0 881.4,148.3 901.4,139.1 922.0,148.6" fill="none" stroke="#9a9a9a" stroke-width="0.7" stroke-linejoin="round" stroke-opacity="0.55"/>
<polygon points="919.5,367.6 900.1,356.1 904.1,159.0 925.3,169.0" fill="#7a7a7a" stroke="#4c4c4c" stroke-width="1.1" stroke-linejoin="round" fill-opacity="0.93"/>
<polygon points="919.5,367.6 937.9,356.4 945.3,159.3 925.3,169.0" fill="#5b5b5b" stroke="#5b5b5b" stroke-width="0.3" stroke-linejoin="round" fill-opacity="0.93" stroke-opacity="0.75"/>
<polygon points="925.3,169.0 904.1,159.0 924.2,149.6 945.3,159.3" fill="#727272" fill-opacity="0.93"/>
<polygon points="904.1,159.0 904.1,159.0 924.2,149.6 923.8,162.3 917.5,165.3" fill="#868686" fill-opacity="0.9"/>
<polygon points="924.2,149.6 945.3,159.3 945.3,159.3 931.6,165.9 923.8,162.3" fill="#7c7c7c" fill-opacity="0.9"/>
<line x1="924.2" y1="149.6" x2="923.8" y2="162.3" stroke="#4c4c4c" stroke-width="0.5" stroke-opacity="0.5"/>
<polygon points="925.3,169.0 904.1,159.0 924.2,149.6 945.3,159.3" fill="none" stroke="#9a9a9a" stroke-width="0.7" stroke-linejoin="round" stroke-opacity="0.55"/>
<polygon points="941.4,380.6 921.5,368.8 927.5,170.0 949.3,180.3" fill="#7a7a7a" stroke="#4c4c4c" stroke-width="1.1" stroke-linejoin="round" fill-opacity="0.93"/>
<polygon points="941.4,380.6 959.9,369.2 969.3,170.4 949.3,180.3" fill="#5b5b5b" stroke="#5b5b5b" stroke-width="0.3" stroke-linejoin="round" fill-opacity="0.93" stroke-opacity="0.75"/>
<polygon points="949.3,180.3 927.5,170.0 947.6,160.4 969.3,170.4" fill="#727272" fill-opacity="0.93"/>
<polygon points="927.5,170.0 927.5,170.0 947.6,160.4 947.1,173.2 940.7,176.3" fill="#868686" fill-opacity="0.9"/>
<polygon points="947.6,160.4 969.3,170.4 969.3,170.4 955.6,177.2 947.1,173.2" fill="#7c7c7c" fill-opacity="0.9"/>
<line x1="947.6" y1="160.4" x2="947.1" y2="173.2" stroke="#4c4c4c" stroke-width="0.5" stroke-opacity="0.5"/>
<polygon points="949.3,180.3 927.5,170.0 947.6,160.4 969.3,170.4" fill="none" stroke="#9a9a9a" stroke-width="0.7" stroke-linejoin="round" stroke-opacity="0.55"/>
<polygon points="963.9,394.0 943.5,381.8 951.6,181.4 974.0,192.0" fill="#7a7a7a" stroke="#4c4c4c" stroke-width="1.1" stroke-linejoin="round" fill-opacity="0.93"/>
<polygon points="963.9,394.0 982.4,382.2 994.0,181.7 974.0,192.0" fill="#5b5b5b" stroke="#5b5b5b" stroke-width="0.3" stroke-linejoin="round" fill-opacity="0.93" stroke-opacity="0.75"/>
<polygon points="974.0,192.0 951.6,181.4 971.6,171.4 994.0,181.7" fill="#727272" fill-opacity="0.93"/>
<polygon points="951.6,181.4 951.6,181.4 971.6,171.4 971.0,184.4 964.6,187.6" fill="#868686" fill-opacity="0.9"/>
<polygon points="971.6,171.4 994.0,181.7 994.0,181.7 980.3,188.7 971.0,184.4" fill="#7c7c7c" fill-opacity="0.9"/>
<line x1="971.6" y1="171.4" x2="971.0" y2="184.4" stroke="#4c4c4c" stroke-width="0.5" stroke-opacity="0.5"/>
<polygon points="974.0,192.0 951.6,181.4 971.6,171.4 994.0,181.7" fill="none" stroke="#9a9a9a" stroke-width="0.7" stroke-linejoin="round" stroke-opacity="0.55"/>
<polygon points="987.0,407.7 966.0,395.2 976.3,193.1 999.4,204.0" fill="#7a7a7a" stroke="#4c4c4c" stroke-width="1.1" stroke-linejoin="round" fill-opacity="0.93"/>
<polygon points="987.0,407.7 1005.5,395.6 1019.4,193.4 999.4,204.0" fill="#5b5b5b" stroke="#9a9a9a" stroke-width="0.8" stroke-linejoin="round" fill-opacity="0.93" stroke-opacity="0.75"/>
<polygon points="999.4,204.0 976.3,193.1 996.3,182.8 1019.4,193.4" fill="#727272" fill-opacity="0.93"/>
<polygon points="976.3,193.1 976.3,193.1 996.3,182.8 995.6,195.9 989.3,199.2" fill="#868686" fill-opacity="0.9"/>
<polygon points="996.3,182.8 1019.4,193.4 1019.4,193.4 1005.8,200.6 995.6,195.9" fill="#7c7c7c" fill-opacity="0.9"/>
<line x1="996.3" y1="182.8" x2="995.6" y2="195.9" stroke="#4c4c4c" stroke-width="0.5" stroke-opacity="0.5"/>
<polygon points="999.4,204.0 976.3,193.1 996.3,182.8 1019.4,193.4" fill="none" stroke="#9a9a9a" stroke-width="0.7" stroke-linejoin="round" stroke-opacity="0.55"/>
<polygon points="778.3,307.0 761.6,296.8 754.1,107.9 772.0,116.6" fill="#7a7a7a" stroke="#4c4c4c" stroke-width="1.1" stroke-linejoin="round" fill-opacity="0.93"/>
<polygon points="778.3,307.0 797.1,297.1 792.5,108.2 772.0,116.6" fill="#5b5b5b" stroke="#5b5b5b" stroke-width="0.3" stroke-linejoin="round" fill-opacity="0.93" stroke-opacity="0.75"/>
<polygon points="772.0,116.6 754.1,107.9 774.5,99.7 792.5,108.2" fill="#727272" fill-opacity="0.93"/>
<polygon points="754.1,107.9 754.1,107.9 774.5,99.7 774.9,111.8 767.9,114.7" fill="#868686" fill-opacity="0.9"/>
<polygon points="774.5,99.7 792.5,108.2 792.5,108.2 779.0,113.8 774.9,111.8" fill="#7c7c7c" fill-opacity="0.9"/>
<line x1="774.5" y1="99.7" x2="774.9" y2="111.8" stroke="#4c4c4c" stroke-width="0.5" stroke-opacity="0.5"/>
<polygon points="772.0,116.6 754.1,107.9 774.5,99.7 792.5,108.2" fill="none" stroke="#9a9a9a" stroke-width="0.7" stroke-linejoin="round" stroke-opacity="0.55"/>
<polygon points="797.1,318.4 780.0,308.0 773.9,117.5 792.3,126.5" fill="#7a7a7a" stroke="#4c4c4c" stroke-width="1.1" stroke-linejoin="round" fill-opacity="0.93"/>
<polygon points="797.1,318.4 816.0,308.3 812.8,117.8 792.3,126.5" fill="#5b5b5b" stroke="#5b5b5b" stroke-width="0.3" stroke-linejoin="round" fill-opacity="0.93" stroke-opacity="0.75"/>
<polygon points="792.3,126.5 773.9,117.5 794.4,109.1 812.8,117.8" fill="#727272" fill-opacity="0.93"/>
<polygon points="773.9,117.5 773.9,117.5 794.4,109.1 794.7,121.3 787.7,124.2" fill="#868686" fill-opacity="0.9"/>
<polygon points="794.4,109.1 812.8,117.8 812.8,117.8 799.3,123.5 794.7,121.3" fill="#7c7c7c" fill-opacity="0.9"/>
<line x1="794.4" y1="109.1" x2="794.7" y2="121.3" stroke="#4c4c4c" stroke-width="0.5" stroke-opacity="0.5"/>
<polygon points="792.3,126.5 773.9,117.5 794.4,109.1 812.8,117.8" fill="none" stroke="#9a9a9a" stroke-width="0.7" stroke-linejoin="round" stroke-opacity="0.55"/>
<polygon points="816.3,330.1 798.8,319.5 794.2,127.4 813.1,136.6" fill="#7a7a7a" stroke="#4c4c4c" stroke-width="1.1" stroke-linejoin="round" fill-opacity="0.93"/>
<polygon points="816.3,330.1 835.3,319.8 833.7,127.7 813.1,136.6" fill="#5b5b5b" stroke="#5b5b5b" stroke-width="0.3" stroke-linejoin="round" fill-opacity="0.93" stroke-opacity="0.75"/>
<polygon points="813.1,136.6 794.2,127.4 814.8,118.7 833.7,127.7" fill="#727272" fill-opacity="0.93"/>
<polygon points="794.2,127.4 794.2,127.4 814.8,118.7 814.9,131.1 808.0,134.1" fill="#868686" fill-opacity="0.9"/>
<polygon points="814.8,118.7 833.7,127.7 833.7,127.7 820.1,133.6 814.9,131.1" fill="#7c7c7c" fill-opacity="0.9"/>
<line x1="814.8" y1="118.7" x2="814.9" y2="131.1" stroke="#4c4c4c" stroke-width="0.5" stroke-opacity="0.5"/>
<polygon points="813.1,136.6 794.2,127.4 814.8,118.7 833.7,127.7" fill="none" stroke="#9a9a9a" stroke-width="0.7" stroke-linejoin="round" stroke-opacity="0.55"/>
<polygon points="836.1,342.2 818.2,331.2 815.1,137.5 834.6,147.0" fill="#7a7a7a" stroke="#4c4c4c" stroke-width="1.1" stroke-linejoin="round" fill-opacity="0.93"/>
<polygon points="836.1,342.2 855.0,331.6 855.2,137.8 834.6,147.0" fill="#5b5b5b" stroke="#5b5b5b" stroke-width="0.3" stroke-linejoin="round" fill-opacity="0.93" stroke-opacity="0.75"/>
<polygon points="834.6,147.0 815.1,137.5 835.7,128.6 855.2,137.8" fill="#727272" fill-opacity="0.93"/>
<polygon points="815.1,137.5 815.1,137.5 835.7,128.6 835.8,141.1 828.8,144.2" fill="#868686" fill-opacity="0.9"/>
<polygon points="835.7,128.6 855.2,137.8 855.2,137.8 841.6,143.9 835.8,141.1" fill="#7c7c7c" fill-opacity="0.9"/>
<line x1="835.7" y1="128.6" x2="835.8" y2="141.1" stroke="#4c4c4c" stroke-width="0.5" stroke-opacity="0.5"/>
<polygon points="834.6,147.0 815.1,137.5 835.7,128.6 855.2,137.8" fill="none" stroke="#9a9a9a" stroke-width="0.7" stroke-linejoin="round" stroke-opacity="0.55"/>
<polygon points="856.4,354.5 838.0,343.3 836.6,148.0 856.6,157.7" fill="#7a7a7a" stroke="#4c4c4c" stroke-width="1.1" stroke-linejoin="round" fill-opacity="0.93"/>
<polygon points="856.4,354.5 875.3,343.7 877.2,148.3 856.6,157.7" fill="#5b5b5b" stroke="#5b5b5b" stroke-width="0.3" stroke-linejoin="round" fill-opacity="0.93" stroke-opacity="0.75"/>
<polygon points="856.6,157.7 836.6,148.0 857.2,138.8 877.2,148.3" fill="#727272" fill-opacity="0.93"/>
<polygon points="836.6,148.0 836.6,148.0 857.2,138.8 857.2,151.4 850.2,154.5" fill="#868686" fill-opacity="0.9"/>
<polygon points="857.2,138.8 877.2,148.3 877.2,148.3 863.6,154.5 857.2,151.4" fill="#7c7c7c" fill-opacity="0.9"/>
<line x1="857.2" y1="138.8" x2="857.2" y2="151.4" stroke="#4c4c4c" stroke-width="0.5" stroke-opacity="0.5"/>
<polygon points="856.6,157.7 836.6,148.0 857.2,138.8 877.2,148.3" fill="none" stroke="#9a9a9a" stroke-width="0.7" stroke-linejoin="round" stroke-opacity="0.55"/>
<polygon points="877.2,367.2 858.3,355.7 858.7,158.7 879.3,168.6" fill="#7a7a7a" stroke="#4c4c4c" stroke-width="1.1" stroke-linejoin="round" fill-opacity="0.93"/>
<polygon points="877.2,367.2 896.2,356.0 899.9,159.0 879.3,168.6" fill="#5b5b5b" stroke="#5b5b5b" stroke-width="0.3" stroke-linejoin="round" fill-opacity="0.93" stroke-opacity="0.75"/>
<polygon points="879.3,168.6 858.7,158.7 879.3,149.3 899.9,159.0" fill="#727272" fill-opacity="0.93"/>
<polygon points="858.7,158.7 858.7,158.7 879.3,149.3 879.2,161.9 872.2,165.2" fill="#868686" fill-opacity="0.9"/>
<polygon points="879.3,149.3 899.9,159.0 899.9,159.0 886.3,165.4 879.2,161.9" fill="#7c7c7c" fill-opacity="0.9"/>
<line x1="879.3" y1="149.3" x2="879.2" y2="161.9" stroke="#4c4c4c" stroke-width="0.5" stroke-opacity="0.5"/>
<polygon points="879.3,168.6 858.7,158.7 879.3,149.3 899.9,159.0" fill="none" stroke="#9a9a9a" stroke-width="0.7" stroke-linejoin="round" stroke-opacity="0.55"/>
<polygon points="898.6,380.2 879.2,368.4 881.4,169.7 902.6,179.9" fill="#7a7a7a" stroke="#4c4c4c" stroke-width="1.1" stroke-linejoin="round" fill-opacity="0.93"/>
<polygon points="898.6,380.2 917.5,368.8 923.2,170.0 902.6,179.9" fill="#5b5b5b" stroke="#5b5b5b" stroke-width="0.3" stroke-linejoin="round" fill-opacity="0.93" stroke-opacity="0.75"/>
<polygon points="902.6,179.9 881.4,169.7 902.0,160.0 923.2,170.0" fill="#727272" fill-opacity="0.93"/>
<polygon points="881.4,169.7 881.4,169.7 902.0,160.0 901.8,172.8 894.8,176.2" fill="#868686" fill-opacity="0.9"/>
<polygon points="902.0,160.0 923.2,170.0 923.2,170.0 909.6,176.6 901.8,172.8" fill="#7c7c7c" fill-opacity="0.9"/>
<line x1="902.0" y1="160.0" x2="901.8" y2="172.8" stroke="#4c4c4c" stroke-width="0.5" stroke-opacity="0.5"/>
<polygon points="902.6,179.9 881.4,169.7 902.0,160.0 923.2,170.0" fill="none" stroke="#9a9a9a" stroke-width="0.7" stroke-linejoin="round" stroke-opacity="0.55"/>
<polygon points="920.5,393.6 900.6,381.4 904.8,181.0 926.6,191.6" fill="#7a7a7a" stroke="#4c4c4c" stroke-width="1.1" stroke-linejoin="round" fill-opacity="0.93"/>
<polygon points="920.5,393.6 939.5,381.8 947.2,181.4 926.6,191.6" fill="#5b5b5b" stroke="#5b5b5b" stroke-width="0.3" stroke-linejoin="round" fill-opacity="0.93" stroke-opacity="0.75"/>
<polygon points="926.6,191.6 904.8,181.0 925.4,171.1 947.2,181.4" fill="#727272" fill-opacity="0.93"/>
<polygon points="904.8,181.0 904.8,181.0 925.4,171.1 925.0,184.0 918.0,187.4" fill="#868686" fill-opacity="0.9"/>
<polygon points="925.4,171.1 947.2,181.4 947.2,181.4 933.6,188.1 925.0,184.0" fill="#7c7c7c" fill-opacity="0.9"/>
<line x1="925.4" y1="171.1" x2="925.0" y2="184.0" stroke="#4c4c4c" stroke-width="0.5" stroke-opacity="0.5"/>
<polygon points="926.6,191.6 904.8,181.0 925.4,171.1 947.2,181.4" fill="none" stroke="#9a9a9a" stroke-width="0.7" stroke-linejoin="round" stroke-opacity="0.55"/>
<polygon points="943.0,407.3 922.6,394.8 928.9,192.7 951.3,203.6" fill="#7a7a7a" stroke="#4c4c4c" stroke-width="1.1" stroke-linejoin="round" fill-opacity="0.93"/>
<polygon points="943.0,407.3 962.0,395.2 971.9,193.0 951.3,203.6" fill="#5b5b5b" stroke="#5b5b5b" stroke-width="0.3" stroke-linejoin="round" fill-opacity="0.93" stroke-opacity="0.75"/>
<polygon points="951.3,203.6 928.9,192.7 949.5,182.4 971.9,193.0" fill="#727272" fill-opacity="0.93"/>
<polygon points="928.9,192.7 928.9,192.7 949.5,182.4 949.0,195.5 942.0,199.0" fill="#868686" fill-opacity="0.9"/>
<polygon points="949.5,182.4 971.9,193.0 971.9,193.0 958.3,200.0 949.0,195.5" fill="#7c7c7c" fill-opacity="0.9"/>
<line x1="949.5" y1="182.4" x2="949.0" y2="195.5" stroke="#4c4c4c" stroke-width="0.5" stroke-opacity="0.5"/>
<polygon points="951.3,203.6 928.9,192.7 949.5,182.4 971.9,193.0" fill="none" stroke="#9a9a9a" stroke-width="0.7" stroke-linejoin="round" stroke-opacity="0.55"/>
<polygon points="966.2,421.4 945.2,408.6 953.7,204.7 976.8,215.9" fill="#7a7a7a" stroke="#4c4c4c" stroke-width="1.1" stroke-linejoin="round" fill-opacity="0.93"/>
<polygon points="966.2,421.4 985.1,409.0 997.4,205.1 976.8,215.9" fill="#5b5b5b" stroke="#9a9a9a" stroke-width="0.8" stroke-linejoin="round" fill-opacity="0.93" stroke-opacity="0.75"/>
<polygon points="976.8,215.9 953.7,204.7 974.3,194.1 997.4,205.1" fill="#727272" fill-opacity="0.93"/>
<polygon points="953.7,204.7 953.7,204.7 974.3,194.1 973.6,207.3 966.6,211.0" fill="#868686" fill-opacity="0.9"/>
<polygon points="974.3,194.1 997.4,205.1 997.4,205.1 983.8,212.2 973.6,207.3" fill="#7c7c7c" fill-opacity="0.9"/>
<line x1="974.3" y1="194.1" x2="973.6" y2="207.3" stroke="#4c4c4c" stroke-width="0.5" stroke-opacity="0.5"/>
<polygon points="976.8,215.9 953.7,204.7 974.3,194.1 997.4,205.1" fill="none" stroke="#9a9a9a" stroke-width="0.7" stroke-linejoin="round" stroke-opacity="0.55"/>
<polygon points="757.0,318.0 740.3,307.6 734.2,184.1 751.7,193.6" fill="#b6dff7" stroke="#7194ae" stroke-width="1.1" stroke-linejoin="round" fill-opacity="0.93"/>
<polygon points="757.0,318.0 776.3,308.0 772.1,184.4 751.7,193.6" fill="#8da9cc" stroke="#8da9cc" stroke-width="0.3" stroke-linejoin="round" fill-opacity="0.93" stroke-opacity="0.75"/>
<polygon points="751.7,193.6 734.2,184.1 754.6,175.1 772.1,184.4" fill="#90b8cc" fill-opacity="0.93"/>
<polygon points="734.2,184.1 734.2,184.1 754.6,175.1 755.1,186.7 746.3,190.7" fill="#aad1e5" fill-opacity="0.9"/>
<polygon points="754.6,175.1 772.1,184.4 772.1,184.4 760.5,189.6 755.1,186.7" fill="#9dc5d9" fill-opacity="0.9"/>
<line x1="754.6" y1="175.1" x2="755.1" y2="186.7" stroke="#7194ae" stroke-width="0.5" stroke-opacity="0.5"/>
<polygon points="751.7,193.6 734.2,184.1 754.6,175.1 772.1,184.4" fill="none" stroke="#d6ecf8" stroke-width="0.7" stroke-linejoin="round" stroke-opacity="0.55"/>
<polygon points="775.7,329.8 758.7,319.1 753.5,194.6 771.4,204.3" fill="#b6dff7" stroke="#7194ae" stroke-width="1.1" stroke-linejoin="round" fill-opacity="0.93"/>
<polygon points="775.7,329.8 795.1,319.4 791.9,194.9 771.4,204.3" fill="#8da9cc" stroke="#8da9cc" stroke-width="0.3" stroke-linejoin="round" fill-opacity="0.93" stroke-opacity="0.75"/>
<polygon points="771.4,204.3 753.5,194.6 773.9,185.4 791.9,194.9" fill="#90b8cc" fill-opacity="0.93"/>
<polygon points="753.5,194.6 753.5,194.6 773.9,185.4 774.3,197.1 765.5,201.1" fill="#aad1e5" fill-opacity="0.9"/>
<polygon points="773.9,185.4 791.9,194.9 791.9,194.9 780.3,200.2 774.3,197.1" fill="#9dc5d9" fill-opacity="0.9"/>
<line x1="773.9" y1="185.4" x2="774.3" y2="197.1" stroke="#7194ae" stroke-width="0.5" stroke-opacity="0.5"/>
<polygon points="771.4,204.3 753.5,194.6 773.9,185.4 791.9,194.9" fill="none" stroke="#d6ecf8" stroke-width="0.7" stroke-linejoin="round" stroke-opacity="0.55"/>
<polygon points="795.0,341.8 777.5,330.9 773.3,205.3 791.7,215.3" fill="#b6dff7" stroke="#7194ae" stroke-width="1.1" stroke-linejoin="round" fill-opacity="0.93"/>
<polygon points="795.0,341.8 814.4,331.2 812.2,205.6 791.7,215.3" fill="#8da9cc" stroke="#8da9cc" stroke-width="0.3" stroke-linejoin="round" fill-opacity="0.93" stroke-opacity="0.75"/>
<polygon points="791.7,215.3 773.3,205.3 793.8,195.9 812.2,205.6" fill="#90b8cc" fill-opacity="0.93"/>
<polygon points="773.3,205.3 773.3,205.3 793.8,195.9 794.1,207.7 785.2,211.8" fill="#aad1e5" fill-opacity="0.9"/>
<polygon points="793.8,195.9 812.2,205.6 812.2,205.6 800.5,211.1 794.1,207.7" fill="#9dc5d9" fill-opacity="0.9"/>
<line x1="793.8" y1="195.9" x2="794.1" y2="207.7" stroke="#7194ae" stroke-width="0.5" stroke-opacity="0.5"/>
<polygon points="791.7,215.3 773.3,205.3 793.8,195.9 812.2,205.6" fill="none" stroke="#d6ecf8" stroke-width="0.7" stroke-linejoin="round" stroke-opacity="0.55"/>
<polygon points="814.7,354.1 796.8,342.9 793.6,216.4 812.5,226.6" fill="#b6dff7" stroke="#7194ae" stroke-width="1.1" stroke-linejoin="round" fill-opacity="0.93"/>
<polygon points="814.7,354.1 834.1,343.3 833.0,216.7 812.5,226.6" fill="#8da9cc" stroke="#8da9cc" stroke-width="0.3" stroke-linejoin="round" fill-opacity="0.93" stroke-opacity="0.75"/>
<polygon points="812.5,226.6 793.6,216.4 814.1,206.7 833.0,216.7" fill="#90b8cc" fill-opacity="0.93"/>
<polygon points="793.6,216.4 793.6,216.4 814.1,206.7 814.3,218.5 805.4,222.8" fill="#aad1e5" fill-opacity="0.9"/>
<polygon points="814.1,206.7 833.0,216.7 833.0,216.7 821.4,222.3 814.3,218.5" fill="#9dc5d9" fill-opacity="0.9"/>
<line x1="814.1" y1="206.7" x2="814.3" y2="218.5" stroke="#7194ae" stroke-width="0.5" stroke-opacity="0.5"/>
<polygon points="812.5,226.6 793.6,216.4 814.1,206.7 833.0,216.7" fill="none" stroke="#d6ecf8" stroke-width="0.7" stroke-linejoin="round" stroke-opacity="0.55"/>
<polygon points="835.0,366.8 816.6,355.3 814.5,227.7 833.9,238.3" fill="#b6dff7" stroke="#7194ae" stroke-width="1.1" stroke-linejoin="round" fill-opacity="0.93"/>
<polygon points="835.0,366.8 854.4,355.6 854.4,228.0 833.9,238.3" fill="#8da9cc" stroke="#8da9cc" stroke-width="0.3" stroke-linejoin="round" fill-opacity="0.93" stroke-opacity="0.75"/>
<polygon points="833.9,238.3 814.5,227.7 835.0,217.7 854.4,228.0" fill="#90b8cc" fill-opacity="0.93"/>
<polygon points="814.5,227.7 814.5,227.7 835.0,217.7 835.1,229.7 826.2,234.1" fill="#aad1e5" fill-opacity="0.9"/>
<polygon points="835.0,217.7 854.4,228.0 854.4,228.0 842.8,233.8 835.1,229.7" fill="#9dc5d9" fill-opacity="0.9"/>
<line x1="835.0" y1="217.7" x2="835.1" y2="229.7" stroke="#7194ae" stroke-width="0.5" stroke-opacity="0.5"/>
<polygon points="833.9,238.3 814.5,227.7 835.0,217.7 854.4,228.0" fill="none" stroke="#d6ecf8" stroke-width="0.7" stroke-linejoin="round" stroke-opacity="0.55"/>
<polygon points="855.8,379.8 836.9,368.0 835.9,239.4 855.9,250.2" fill="#b6dff7" stroke="#7194ae" stroke-width="1.1" stroke-linejoin="round" fill-opacity="0.93"/>
<polygon points="855.8,379.8 875.2,368.3 876.5,239.7 855.9,250.2" fill="#8da9cc" stroke="#8da9cc" stroke-width="0.3" stroke-linejoin="round" fill-opacity="0.93" stroke-opacity="0.75"/>
<polygon points="855.9,250.2 835.9,239.4 856.5,229.1 876.5,239.7" fill="#90b8cc" fill-opacity="0.93"/>
<polygon points="835.9,239.4 835.9,239.4 856.5,229.1 856.5,241.2 847.6,245.7" fill="#aad1e5" fill-opacity="0.9"/>
<polygon points="856.5,229.1 876.5,239.7 876.5,239.7 864.8,245.7 856.5,241.2" fill="#9dc5d9" fill-opacity="0.9"/>
<line x1="856.5" y1="229.1" x2="856.5" y2="241.2" stroke="#7194ae" stroke-width="0.5" stroke-opacity="0.5"/>
<polygon points="855.9,250.2 835.9,239.4 856.5,229.1 876.5,239.7" fill="none" stroke="#d6ecf8" stroke-width="0.7" stroke-linejoin="round" stroke-opacity="0.55"/>
<polygon points="877.1,393.1 857.7,381.0 858.0,251.3 878.5,262.5" fill="#b6dff7" stroke="#7194ae" stroke-width="1.1" stroke-linejoin="round" fill-opacity="0.93"/>
<polygon points="877.1,393.1 896.6,381.4 899.1,251.7 878.5,262.5" fill="#8da9cc" stroke="#8da9cc" stroke-width="0.3" stroke-linejoin="round" fill-opacity="0.93" stroke-opacity="0.75"/>
<polygon points="878.5,262.5 858.0,251.3 878.5,240.8 899.1,251.7" fill="#90b8cc" fill-opacity="0.93"/>
<polygon points="858.0,251.3 858.0,251.3 878.5,240.8 878.4,253.0 869.5,257.6" fill="#aad1e5" fill-opacity="0.9"/>
<polygon points="878.5,240.8 899.1,251.7 899.1,251.7 887.4,257.8 878.4,253.0" fill="#9dc5d9" fill-opacity="0.9"/>
<line x1="878.5" y1="240.8" x2="878.4" y2="253.0" stroke="#7194ae" stroke-width="0.5" stroke-opacity="0.5"/>
<polygon points="878.5,262.5 858.0,251.3 878.5,240.8 899.1,251.7" fill="none" stroke="#d6ecf8" stroke-width="0.7" stroke-linejoin="round" stroke-opacity="0.55"/>
<polygon points="899.0,406.8 879.1,394.4 880.6,263.7 901.8,275.1" fill="#b6dff7" stroke="#7194ae" stroke-width="1.1" stroke-linejoin="round" fill-opacity="0.93"/>
<polygon points="899.0,406.8 918.5,394.8 922.4,264.0 901.8,275.1" fill="#8da9cc" stroke="#8da9cc" stroke-width="0.3" stroke-linejoin="round" fill-opacity="0.93" stroke-opacity="0.75"/>
<polygon points="901.8,275.1 880.6,263.7 901.2,252.8 922.4,264.0" fill="#90b8cc" fill-opacity="0.93"/>
<polygon points="880.6,263.7 880.6,263.7 901.2,252.8 901.0,265.1 892.1,269.9" fill="#aad1e5" fill-opacity="0.9"/>
<polygon points="901.2,252.8 922.4,264.0 922.4,264.0 910.7,270.3 901.0,265.1" fill="#9dc5d9" fill-opacity="0.9"/>
<line x1="901.2" y1="252.8" x2="901.0" y2="265.1" stroke="#7194ae" stroke-width="0.5" stroke-opacity="0.5"/>
<polygon points="901.8,275.1 880.6,263.7 901.2,252.8 922.4,264.0" fill="none" stroke="#d6ecf8" stroke-width="0.7" stroke-linejoin="round" stroke-opacity="0.55"/>
<polygon points="921.6,420.9 901.1,408.1 904.0,276.3 925.7,288.2" fill="#b6dff7" stroke="#7194ae" stroke-width="1.1" stroke-linejoin="round" fill-opacity="0.93"/>
<polygon points="921.6,420.9 941.0,408.5 946.3,276.7 925.7,288.2" fill="#8da9cc" stroke="#8da9cc" stroke-width="0.3" stroke-linejoin="round" fill-opacity="0.93" stroke-opacity="0.75"/>
<polygon points="925.7,288.2 904.0,276.3 924.6,265.2 946.3,276.7" fill="#90b8cc" fill-opacity="0.93"/>
<polygon points="904.0,276.3 904.0,276.3 924.6,265.2 924.2,277.6 915.3,282.5" fill="#aad1e5" fill-opacity="0.9"/>
<polygon points="924.6,265.2 946.3,276.7 946.3,276.7 934.6,283.2 924.2,277.6" fill="#9dc5d9" fill-opacity="0.9"/>
<line x1="924.6" y1="265.2" x2="924.2" y2="277.6" stroke="#7194ae" stroke-width="0.5" stroke-opacity="0.5"/>
<polygon points="925.7,288.2 904.0,276.3 924.6,265.2 946.3,276.7" fill="none" stroke="#d6ecf8" stroke-width="0.7" stroke-linejoin="round" stroke-opacity="0.55"/>
<polygon points="944.8,435.4 923.7,422.3 928.0,289.4 950.4,301.6" fill="#b6dff7" stroke="#7194ae" stroke-width="1.1" stroke-linejoin="round" fill-opacity="0.93"/>
<polygon points="944.8,435.4 964.2,422.7 971.0,289.8 950.4,301.6" fill="#8da9cc" stroke="#d6ecf8" stroke-width="0.8" stroke-linejoin="round" fill-opacity="0.93" stroke-opacity="0.75"/>
<polygon points="950.4,301.6 928.0,289.4 948.6,277.9 971.0,289.8" fill="#90b8cc" fill-opacity="0.93"/>
<polygon points="928.0,289.4 928.0,289.4 948.6,277.9 948.1,290.4 939.2,295.5" fill="#aad1e5" fill-opacity="0.9"/>
<polygon points="948.6,277.9 971.0,289.8 971.0,289.8 959.3,296.5 948.1,290.4" fill="#9dc5d9" fill-opacity="0.9"/>
<line x1="948.6" y1="277.9" x2="948.1" y2="290.4" stroke="#7194ae" stroke-width="0.5" stroke-opacity="0.5"/>
<polygon points="950.4,301.6 928.0,289.4 948.6,277.9 971.0,289.8" fill="none" stroke="#d6ecf8" stroke-width="0.7" stroke-linejoin="round" stroke-opacity="0.55"/>
<polygon points="735.1,329.4 718.6,318.7 711.2,194.2 728.6,204.0" fill="#b6dff7" stroke="#7194ae" stroke-width="1.1" stroke-linejoin="round" fill-opacity="0.93"/>
<polygon points="735.1,329.4 754.9,319.1 749.6,194.5 728.6,204.0" fill="#8da9cc" stroke="#8da9cc" stroke-width="0.3" stroke-linejoin="round" fill-opacity="0.93" stroke-opacity="0.75"/>
<polygon points="728.6,204.0 711.2,194.2 732.1,185.0 749.6,194.5" fill="#90b8cc" fill-opacity="0.93"/>
<polygon points="711.2,194.2 711.2,194.2 732.1,185.0 732.7,196.7 723.2,200.9" fill="#aad1e5" fill-opacity="0.9"/>
<polygon points="732.1,185.0 749.6,194.5 749.6,194.5 738.1,199.7 732.7,196.7" fill="#9dc5d9" fill-opacity="0.9"/>
<line x1="732.1" y1="185.0" x2="732.7" y2="196.7" stroke="#7194ae" stroke-width="0.5" stroke-opacity="0.5"/>
<polygon points="728.6,204.0 711.2,194.2 732.1,185.0 749.6,194.5" fill="none" stroke="#d6ecf8" stroke-width="0.7" stroke-linejoin="round" stroke-opacity="0.55"/>
<polygon points="753.9,341.4 736.9,330.5 730.4,205.0 748.3,215.0" fill="#b6dff7" stroke="#7194ae" stroke-width="1.1" stroke-linejoin="round" fill-opacity="0.93"/>
<polygon points="753.9,341.4 773.7,330.8 769.3,205.3 748.3,215.0" fill="#8da9cc" stroke="#8da9cc" stroke-width="0.3" stroke-linejoin="round" fill-opacity="0.93" stroke-opacity="0.75"/>
<polygon points="748.3,215.0 730.4,205.0 751.4,195.5 769.3,205.3" fill="#90b8cc" fill-opacity="0.93"/>
<polygon points="730.4,205.0 730.4,205.0 751.4,195.5 751.9,207.3 742.4,211.7" fill="#aad1e5" fill-opacity="0.9"/>
<polygon points="751.4,195.5 769.3,205.3 769.3,205.3 757.8,210.6 751.9,207.3" fill="#9dc5d9" fill-opacity="0.9"/>
<line x1="751.4" y1="195.5" x2="751.9" y2="207.3" stroke="#7194ae" stroke-width="0.5" stroke-opacity="0.5"/>
<polygon points="748.3,215.0 730.4,205.0 751.4,195.5 769.3,205.3" fill="none" stroke="#d6ecf8" stroke-width="0.7" stroke-linejoin="round" stroke-opacity="0.55"/>
<polygon points="773.1,353.7 755.6,342.5 750.1,216.0 768.5,226.3" fill="#b6dff7" stroke="#7194ae" stroke-width="1.1" stroke-linejoin="round" fill-opacity="0.93"/>
<polygon points="773.1,353.7 792.9,342.9 789.5,216.3 768.5,226.3" fill="#8da9cc" stroke="#8da9cc" stroke-width="0.3" stroke-linejoin="round" fill-opacity="0.93" stroke-opacity="0.75"/>
<polygon points="768.5,226.3 750.1,216.0 771.1,206.3 789.5,216.3" fill="#90b8cc" fill-opacity="0.93"/>
<polygon points="750.1,216.0 750.1,216.0 771.1,206.3 771.6,218.2 762.0,222.6" fill="#aad1e5" fill-opacity="0.9"/>
<polygon points="771.1,206.3 789.5,216.3 789.5,216.3 778.0,221.8 771.6,218.2" fill="#9dc5d9" fill-opacity="0.9"/>
<line x1="771.1" y1="206.3" x2="771.6" y2="218.2" stroke="#7194ae" stroke-width="0.5" stroke-opacity="0.5"/>
<polygon points="768.5,226.3 750.1,216.0 771.1,206.3 789.5,216.3" fill="none" stroke="#d6ecf8" stroke-width="0.7" stroke-linejoin="round" stroke-opacity="0.55"/>
<polygon points="792.8,366.4 774.9,354.9 770.4,227.3 789.3,237.9" fill="#b6dff7" stroke="#7194ae" stroke-width="1.1" stroke-linejoin="round" fill-opacity="0.93"/>
<polygon points="792.8,366.4 812.7,355.3 810.3,227.7 789.3,237.9" fill="#8da9cc" stroke="#8da9cc" stroke-width="0.3" stroke-linejoin="round" fill-opacity="0.93" stroke-opacity="0.75"/>
<polygon points="789.3,237.9 770.4,227.3 791.5,217.4 810.3,227.7" fill="#90b8cc" fill-opacity="0.93"/>
<polygon points="770.4,227.3 770.4,227.3 791.5,217.4 791.8,229.4 782.2,233.9" fill="#aad1e5" fill-opacity="0.9"/>
<polygon points="791.5,217.4 810.3,227.7 810.3,227.7 798.8,233.2 791.8,229.4" fill="#9dc5d9" fill-opacity="0.9"/>
<line x1="791.5" y1="217.4" x2="791.8" y2="229.4" stroke="#7194ae" stroke-width="0.5" stroke-opacity="0.5"/>
<polygon points="789.3,237.9 770.4,227.3 791.5,217.4 810.3,227.7" fill="none" stroke="#d6ecf8" stroke-width="0.7" stroke-linejoin="round" stroke-opacity="0.55"/>
<polygon points="813.0,379.4 794.6,367.6 791.2,239.0 810.6,249.8" fill="#b6dff7" stroke="#7194ae" stroke-width="1.1" stroke-linejoin="round" fill-opacity="0.93"/>
<polygon points="813.0,379.4 832.9,367.9 831.7,239.3 810.6,249.8" fill="#8da9cc" stroke="#8da9cc" stroke-width="0.3" stroke-linejoin="round" fill-opacity="0.93" stroke-opacity="0.75"/>
<polygon points="810.6,249.8 791.2,239.0 812.3,228.7 831.7,239.3" fill="#90b8cc" fill-opacity="0.93"/>
<polygon points="791.2,239.0 791.2,239.0 812.3,228.7 812.5,240.8 803.0,245.5" fill="#aad1e5" fill-opacity="0.9"/>
<polygon points="812.3,228.7 831.7,239.3 831.7,239.3 820.2,245.1 812.5,240.8" fill="#9dc5d9" fill-opacity="0.9"/>
<line x1="812.3" y1="228.7" x2="812.5" y2="240.8" stroke="#7194ae" stroke-width="0.5" stroke-opacity="0.5"/>
<polygon points="810.6,249.8 791.2,239.0 812.3,228.7 831.7,239.3" fill="none" stroke="#d6ecf8" stroke-width="0.7" stroke-linejoin="round" stroke-opacity="0.55"/>
<polygon points="833.8,392.7 814.9,380.6 812.6,250.9 832.6,262.1" fill="#b6dff7" stroke="#7194ae" stroke-width="1.1" stroke-linejoin="round" fill-opacity="0.93"/>
<polygon points="833.8,392.7 853.7,381.0 853.7,251.3 832.6,262.1" fill="#8da9cc" stroke="#8da9cc" stroke-width="0.3" stroke-linejoin="round" fill-opacity="0.93" stroke-opacity="0.75"/>
<polygon points="832.6,262.1 812.6,250.9 833.8,240.4 853.7,251.3" fill="#90b8cc" fill-opacity="0.93"/>
<polygon points="812.6,250.9 812.6,250.9 833.8,240.4 833.9,252.6 824.3,257.5" fill="#aad1e5" fill-opacity="0.9"/>
<polygon points="833.8,240.4 853.7,251.3 853.7,251.3 842.2,257.2 833.9,252.6" fill="#9dc5d9" fill-opacity="0.9"/>
<line x1="833.8" y1="240.4" x2="833.9" y2="252.6" stroke="#7194ae" stroke-width="0.5" stroke-opacity="0.5"/>
<polygon points="832.6,262.1 812.6,250.9 833.8,240.4 853.7,251.3" fill="none" stroke="#d6ecf8" stroke-width="0.7" stroke-linejoin="round" stroke-opacity="0.55"/>
<polygon points="855.1,406.4 835.7,394.0 834.7,263.3 855.2,274.7" fill="#b6dff7" stroke="#7194ae" stroke-width="1.1" stroke-linejoin="round" fill-opacity="0.93"/>
<polygon points="855.1,406.4 875.1,394.4 876.3,263.6 855.2,274.7" fill="#8da9cc" stroke="#8da9cc" stroke-width="0.3" stroke-linejoin="round" fill-opacity="0.93" stroke-opacity="0.75"/>
<polygon points="855.2,274.7 834.7,263.3 855.8,252.4 876.3,263.6" fill="#90b8cc" fill-opacity="0.93"/>
<polygon points="834.7,263.3 834.7,263.3 855.8,252.4 855.8,264.7 846.2,269.7" fill="#aad1e5" fill-opacity="0.9"/>
<polygon points="855.8,252.4 876.3,263.6 876.3,263.6 864.8,269.7 855.8,264.7" fill="#9dc5d9" fill-opacity="0.9"/>
<line x1="855.8" y1="252.4" x2="855.8" y2="264.7" stroke="#7194ae" stroke-width="0.5" stroke-opacity="0.5"/>
<polygon points="855.2,274.7 834.7,263.3 855.8,252.4 876.3,263.6" fill="none" stroke="#d6ecf8" stroke-width="0.7" stroke-linejoin="round" stroke-opacity="0.55"/>
<polygon points="877.0,420.5 857.1,407.7 857.3,275.9 878.4,287.7" fill="#b6dff7" stroke="#7194ae" stroke-width="1.1" stroke-linejoin="round" fill-opacity="0.93"/>
<polygon points="877.0,420.5 897.0,408.1 899.6,276.3 878.4,287.7" fill="#8da9cc" stroke="#8da9cc" stroke-width="0.3" stroke-linejoin="round" fill-opacity="0.93" stroke-opacity="0.75"/>
<polygon points="878.4,287.7 857.3,275.9 878.5,264.8 899.6,276.3" fill="#90b8cc" fill-opacity="0.93"/>
<polygon points="857.3,275.9 857.3,275.9 878.5,264.8 878.4,277.2 868.8,282.3" fill="#aad1e5" fill-opacity="0.9"/>
<polygon points="878.5,264.8 899.6,276.3 899.6,276.3 888.0,282.5 878.4,277.2" fill="#9dc5d9" fill-opacity="0.9"/>
<line x1="878.5" y1="264.8" x2="878.4" y2="277.2" stroke="#7194ae" stroke-width="0.5" stroke-opacity="0.5"/>
<polygon points="878.4,287.7 857.3,275.9 878.5,264.8 899.6,276.3" fill="none" stroke="#d6ecf8" stroke-width="0.7" stroke-linejoin="round" stroke-opacity="0.55"/>
<polygon points="899.6,435.0 879.1,421.8 880.6,289.0 902.4,301.1" fill="#b6dff7" stroke="#7194ae" stroke-width="1.1" stroke-linejoin="round" fill-opacity="0.93"/>
<polygon points="899.6,435.0 919.6,422.2 923.6,289.4 902.4,301.1" fill="#8da9cc" stroke="#8da9cc" stroke-width="0.3" stroke-linejoin="round" fill-opacity="0.93" stroke-opacity="0.75"/>
<polygon points="902.4,301.1 880.6,289.0 901.8,277.5 923.6,289.4" fill="#90b8cc" fill-opacity="0.93"/>
<polygon points="880.6,289.0 880.6,289.0 901.8,277.5 901.6,290.0 892.0,295.3" fill="#aad1e5" fill-opacity="0.9"/>
<polygon points="901.8,277.5 923.6,289.4 923.6,289.4 912.0,295.8 901.6,290.0" fill="#9dc5d9" fill-opacity="0.9"/>
<line x1="901.8" y1="277.5" x2="901.6" y2="290.0" stroke="#7194ae" stroke-width="0.5" stroke-opacity="0.5"/>
<polygon points="902.4,301.1 880.6,289.0 901.8,277.5 923.6,289.4" fill="none" stroke="#d6ecf8" stroke-width="0.7" stroke-linejoin="round" stroke-opacity="0.55"/>
<polygon points="922.7,449.8 901.7,436.3 904.7,302.4 927.1,314.9" fill="#b6dff7" stroke="#7194ae" stroke-width="1.1" stroke-linejoin="round" fill-opacity="0.93"/>
<polygon points="922.7,449.8 942.7,436.7 948.2,302.8 927.1,314.9" fill="#8da9cc" stroke="#d6ecf8" stroke-width="0.8" stroke-linejoin="round" fill-opacity="0.93" stroke-opacity="0.75"/>
<polygon points="927.1,314.9 904.7,302.4 925.8,290.6 948.2,302.8" fill="#90b8cc" fill-opacity="0.93"/>
<polygon points="904.7,302.4 904.7,302.4 925.8,290.6 925.5,303.2 915.8,308.6" fill="#aad1e5" fill-opacity="0.9"/>
<polygon points="925.8,290.6 948.2,302.8 948.2,302.8 936.7,309.4 925.5,303.2" fill="#9dc5d9" fill-opacity="0.9"/>
<line x1="925.8" y1="290.6" x2="925.5" y2="303.2" stroke="#7194ae" stroke-width="0.5" stroke-opacity="0.5"/>
<polygon points="927.1,314.9 904.7,302.4 925.8,290.6 948.2,302.8" fill="none" stroke="#d6ecf8" stroke-width="0.7" stroke-linejoin="round" stroke-opacity="0.55"/>
<polygon points="712.8,341.0 696.3,330.1 692.0,269.1 708.9,279.5" fill="#c8c8c8" stroke="#868686" stroke-width="1.1" stroke-linejoin="round" fill-opacity="0.93"/>
<polygon points="712.8,341.0 733.1,330.5 729.8,269.4 708.9,279.5" fill="#9a9a9a" stroke="#9a9a9a" stroke-width="0.3" stroke-linejoin="round" fill-opacity="0.93" stroke-opacity="0.75"/>
<polygon points="708.9,279.5 692.0,269.1 712.9,259.1 729.8,269.4" fill="#8f8f8f" fill-opacity="0.93"/>
<polygon points="692.0,269.1 692.0,269.1 712.9,259.1 713.5,270.3 702.6,275.6" fill="#aaaaaa" fill-opacity="0.9"/>
<polygon points="712.9,259.1 729.8,269.4 729.8,269.4 719.9,274.2 713.5,270.3" fill="#9d9d9d" fill-opacity="0.9"/>
<line x1="712.9" y1="259.1" x2="713.5" y2="270.3" stroke="#868686" stroke-width="0.5" stroke-opacity="0.5"/>
<polygon points="708.9,279.5 692.0,269.1 712.9,259.1 729.8,269.4" fill="none" stroke="#cdcdcd" stroke-width="0.7" stroke-linejoin="round" stroke-opacity="0.55"/>
<polygon points="731.4,353.3 714.5,342.2 710.7,280.6 728.1,291.4" fill="#c8c8c8" stroke="#868686" stroke-width="1.1" stroke-linejoin="round" fill-opacity="0.93"/>
<polygon points="731.4,353.3 751.8,342.5 749.0,281.0 728.1,291.4" fill="#9a9a9a" stroke="#9a9a9a" stroke-width="0.3" stroke-linejoin="round" fill-opacity="0.93" stroke-opacity="0.75"/>
<polygon points="728.1,291.4 710.7,280.6 731.6,270.5 749.0,281.0" fill="#8f8f8f" fill-opacity="0.93"/>
<polygon points="710.7,280.6 710.7,280.6 731.6,270.5 732.2,281.7 721.2,287.1" fill="#aaaaaa" fill-opacity="0.9"/>
<polygon points="731.6,270.5 749.0,281.0 749.0,281.0 739.1,285.9 732.2,281.7" fill="#9d9d9d" fill-opacity="0.9"/>
<line x1="731.6" y1="270.5" x2="732.2" y2="281.7" stroke="#868686" stroke-width="0.5" stroke-opacity="0.5"/>
<polygon points="728.1,291.4 710.7,280.6 731.6,270.5 749.0,281.0" fill="none" stroke="#cdcdcd" stroke-width="0.7" stroke-linejoin="round" stroke-opacity="0.55"/>
<polygon points="750.6,366.0 733.2,354.5 729.9,292.5 747.7,303.5" fill="#c8c8c8" stroke="#868686" stroke-width="1.1" stroke-linejoin="round" fill-opacity="0.93"/>
<polygon points="750.6,366.0 771.0,354.9 768.7,292.8 747.7,303.5" fill="#9a9a9a" stroke="#9a9a9a" stroke-width="0.3" stroke-linejoin="round" fill-opacity="0.93" stroke-opacity="0.75"/>
<polygon points="747.7,303.5 729.9,292.5 750.8,282.1 768.7,292.8" fill="#8f8f8f" fill-opacity="0.93"/>
<polygon points="729.9,292.5 729.9,292.5 750.8,282.1 751.3,293.4 740.3,298.9" fill="#aaaaaa" fill-opacity="0.9"/>
<polygon points="750.8,282.1 768.7,292.8 768.7,292.8 758.7,297.9 751.3,293.4" fill="#9d9d9d" fill-opacity="0.9"/>
<line x1="750.8" y1="282.1" x2="751.3" y2="293.4" stroke="#868686" stroke-width="0.5" stroke-opacity="0.5"/>
<polygon points="747.7,303.5 729.9,292.5 750.8,282.1 768.7,292.8" fill="none" stroke="#cdcdcd" stroke-width="0.7" stroke-linejoin="round" stroke-opacity="0.55"/>
<polygon points="770.2,379.0 752.4,367.2 749.6,304.7 767.9,316.0" fill="#c8c8c8" stroke="#868686" stroke-width="1.1" stroke-linejoin="round" fill-opacity="0.93"/>
<polygon points="770.2,379.0 790.7,367.5 788.9,305.0 767.9,316.0" fill="#9a9a9a" stroke="#9a9a9a" stroke-width="0.3" stroke-linejoin="round" fill-opacity="0.93" stroke-opacity="0.75"/>
<polygon points="767.9,316.0 749.6,304.7 770.6,294.0 788.9,305.0" fill="#8f8f8f" fill-opacity="0.93"/>
<polygon points="749.6,304.7 749.6,304.7 770.6,294.0 771.0,305.4 759.9,311.1" fill="#aaaaaa" fill-opacity="0.9"/>
<polygon points="770.6,294.0 788.9,305.0 788.9,305.0 778.9,310.3 771.0,305.4" fill="#9d9d9d" fill-opacity="0.9"/>
<line x1="770.6" y1="294.0" x2="771.0" y2="305.4" stroke="#868686" stroke-width="0.5" stroke-opacity="0.5"/>
<polygon points="767.9,316.0 749.6,304.7 770.6,294.0 788.9,305.0" fill="none" stroke="#cdcdcd" stroke-width="0.7" stroke-linejoin="round" stroke-opacity="0.55"/>
<polygon points="790.4,392.3 772.1,380.2 769.8,317.2 788.6,328.9" fill="#c8c8c8" stroke="#868686" stroke-width="1.1" stroke-linejoin="round" fill-opacity="0.93"/>
<polygon points="790.4,392.3 810.9,380.6 809.7,317.6 788.6,328.9" fill="#9a9a9a" stroke="#9a9a9a" stroke-width="0.3" stroke-linejoin="round" fill-opacity="0.93" stroke-opacity="0.75"/>
<polygon points="788.6,328.9 769.8,317.2 790.8,306.2 809.7,317.6" fill="#8f8f8f" fill-opacity="0.93"/>
<polygon points="769.8,317.2 769.8,317.2 790.8,306.2 791.1,317.7 780.1,323.6" fill="#aaaaaa" fill-opacity="0.9"/>
<polygon points="790.8,306.2 809.7,317.6 809.7,317.6 799.7,322.9 791.1,317.7" fill="#9d9d9d" fill-opacity="0.9"/>
<line x1="790.8" y1="306.2" x2="791.1" y2="317.7" stroke="#868686" stroke-width="0.5" stroke-opacity="0.5"/>
<polygon points="788.6,328.9 769.8,317.2 790.8,306.2 809.7,317.6" fill="none" stroke="#cdcdcd" stroke-width="0.7" stroke-linejoin="round" stroke-opacity="0.55"/>
<polygon points="811.2,406.0 792.3,393.5 790.6,330.1 809.9,342.1" fill="#c8c8c8" stroke="#868686" stroke-width="1.1" stroke-linejoin="round" fill-opacity="0.93"/>
<polygon points="811.2,406.0 831.7,393.9 831.0,330.5 809.9,342.1" fill="#9a9a9a" stroke="#9a9a9a" stroke-width="0.3" stroke-linejoin="round" fill-opacity="0.93" stroke-opacity="0.75"/>
<polygon points="809.9,342.1 790.6,330.1 811.7,318.8 831.0,330.5" fill="#8f8f8f" fill-opacity="0.93"/>
<polygon points="790.6,330.1 790.6,330.1 811.7,318.8 811.9,330.4 800.8,336.4" fill="#aaaaaa" fill-opacity="0.9"/>
<polygon points="811.7,318.8 831.0,330.5 831.0,330.5 821.0,336.0 811.9,330.4" fill="#9d9d9d" fill-opacity="0.9"/>
<line x1="811.7" y1="318.8" x2="811.9" y2="330.4" stroke="#868686" stroke-width="0.5" stroke-opacity="0.5"/>
<polygon points="809.9,342.1 790.6,330.1 811.7,318.8 831.0,330.5" fill="none" stroke="#cdcdcd" stroke-width="0.7" stroke-linejoin="round" stroke-opacity="0.55"/>
<polygon points="832.5,420.0 813.1,407.3 812.0,343.3 831.9,355.6" fill="#c8c8c8" stroke="#868686" stroke-width="1.1" stroke-linejoin="round" fill-opacity="0.93"/>
<polygon points="832.5,420.0 853.0,407.7 853.0,343.7 831.9,355.6" fill="#9a9a9a" stroke="#9a9a9a" stroke-width="0.3" stroke-linejoin="round" fill-opacity="0.93" stroke-opacity="0.75"/>
<polygon points="831.9,355.6 812.0,343.3 833.1,331.7 853.0,343.7" fill="#8f8f8f" fill-opacity="0.93"/>
<polygon points="812.0,343.3 812.0,343.3 833.1,331.7 833.2,343.4 822.1,349.6" fill="#aaaaaa" fill-opacity="0.9"/>
<polygon points="833.1,331.7 853.0,343.7 853.0,343.7 843.0,349.4 833.2,343.4" fill="#9d9d9d" fill-opacity="0.9"/>
<line x1="833.1" y1="331.7" x2="833.2" y2="343.4" stroke="#868686" stroke-width="0.5" stroke-opacity="0.5"/>
<polygon points="831.9,355.6 812.0,343.3 833.1,331.7 853.0,343.7" fill="none" stroke="#cdcdcd" stroke-width="0.7" stroke-linejoin="round" stroke-opacity="0.55"/>
<polygon points="854.4,434.5 834.5,421.4 833.9,356.9 854.4,369.6" fill="#c8c8c8" stroke="#868686" stroke-width="1.1" stroke-linejoin="round" fill-opacity="0.93"/>
<polygon points="854.4,434.5 874.9,421.8 875.6,357.3 854.4,369.6" fill="#9a9a9a" stroke="#9a9a9a" stroke-width="0.3" stroke-linejoin="round" fill-opacity="0.93" stroke-opacity="0.75"/>
<polygon points="854.4,369.6 833.9,356.9 855.1,345.0 875.6,357.3" fill="#8f8f8f" fill-opacity="0.93"/>
<polygon points="833.9,356.9 833.9,356.9 855.1,345.0 855.1,356.7 844.0,363.1" fill="#aaaaaa" fill-opacity="0.9"/>
<polygon points="855.1,345.0 875.6,357.3 875.6,357.3 865.5,363.1 855.1,356.7" fill="#9d9d9d" fill-opacity="0.9"/>
<line x1="855.1" y1="345.0" x2="855.1" y2="356.7" stroke="#868686" stroke-width="0.5" stroke-opacity="0.5"/>
<polygon points="854.4,369.6 833.9,356.9 855.1,345.0 875.6,357.3" fill="none" stroke="#cdcdcd" stroke-width="0.7" stroke-linejoin="round" stroke-opacity="0.55"/>
<polygon points="876.9,449.4 856.5,435.9 856.6,370.9 877.6,384.0" fill="#c8c8c8" stroke="#868686" stroke-width="1.1" stroke-linejoin="round" fill-opacity="0.93"/>
<polygon points="876.9,449.4 897.5,436.3 898.8,371.3 877.6,384.0" fill="#9a9a9a" stroke="#9a9a9a" stroke-width="0.3" stroke-linejoin="round" fill-opacity="0.93" stroke-opacity="0.75"/>
<polygon points="877.6,384.0 856.6,370.9 877.7,358.6 898.8,371.3" fill="#8f8f8f" fill-opacity="0.93"/>
<polygon points="856.6,370.9 856.6,370.9 877.7,358.6 877.6,370.5 866.5,377.1" fill="#aaaaaa" fill-opacity="0.9"/>
<polygon points="877.7,358.6 898.8,371.3 898.8,371.3 888.8,377.3 877.6,370.5" fill="#9d9d9d" fill-opacity="0.9"/>
<line x1="877.7" y1="358.6" x2="877.6" y2="370.5" stroke="#868686" stroke-width="0.5" stroke-opacity="0.5"/>
<polygon points="877.6,384.0 856.6,370.9 877.7,358.6 898.8,371.3" fill="none" stroke="#cdcdcd" stroke-width="0.7" stroke-linejoin="round" stroke-opacity="0.55"/>
<polygon points="900.1,464.7 879.1,450.8 879.8,385.3 901.5,398.8" fill="#c8c8c8" stroke="#868686" stroke-width="1.1" stroke-linejoin="round" fill-opacity="0.93"/>
<polygon points="900.1,464.7 920.7,451.2 922.7,385.8 901.5,398.8" fill="#9a9a9a" stroke="#cdcdcd" stroke-width="0.8" stroke-linejoin="round" fill-opacity="0.93" stroke-opacity="0.75"/>
<polygon points="901.5,398.8 879.8,385.3 901.0,372.7 922.7,385.8" fill="#8f8f8f" fill-opacity="0.93"/>
<polygon points="879.8,385.3 879.8,385.3 901.0,372.7 900.7,384.6 889.6,391.4" fill="#aaaaaa" fill-opacity="0.9"/>
<polygon points="901.0,372.7 922.7,385.8 922.7,385.8 912.7,391.9 900.7,384.6" fill="#9d9d9d" fill-opacity="0.9"/>
<line x1="901.0" y1="372.7" x2="900.7" y2="384.6" stroke="#868686" stroke-width="0.5" stroke-opacity="0.5"/>
<polygon points="901.5,398.8 879.8,385.3 901.0,372.7 922.7,385.8" fill="none" stroke="#cdcdcd" stroke-width="0.7" stroke-linejoin="round" stroke-opacity="0.55"/>
<polygon points="689.8,352.9 673.4,341.8 668.5,280.2 685.3,291.0" fill="#c8c8c8" stroke="#868686" stroke-width="1.1" stroke-linejoin="round" fill-opacity="0.93"/>
<polygon points="689.8,352.9 710.7,342.1 706.8,280.6 685.3,291.0" fill="#9a9a9a" stroke="#9a9a9a" stroke-width="0.3" stroke-linejoin="round" fill-opacity="0.93" stroke-opacity="0.75"/>
<polygon points="685.3,291.0 668.5,280.2 689.8,270.1 706.8,280.6" fill="#8f8f8f" fill-opacity="0.93"/>
<polygon points="668.5,280.2 668.5,280.2 689.8,270.1 690.6,281.3 679.0,286.9" fill="#aaaaaa" fill-opacity="0.9"/>
<polygon points="689.8,270.1 706.8,280.6 706.8,280.6 697.0,285.3 690.6,281.3" fill="#9d9d9d" fill-opacity="0.9"/>
<line x1="689.8" y1="270.1" x2="690.6" y2="281.3" stroke="#868686" stroke-width="0.5" stroke-opacity="0.5"/>
<polygon points="685.3,291.0 668.5,280.2 689.8,270.1 706.8,280.6" fill="none" stroke="#cdcdcd" stroke-width="0.7" stroke-linejoin="round" stroke-opacity="0.55"/>
<polygon points="708.4,365.6 691.6,354.1 687.1,292.1 704.4,303.1" fill="#c8c8c8" stroke="#868686" stroke-width="1.1" stroke-linejoin="round" fill-opacity="0.93"/>
<polygon points="708.4,365.6 729.3,354.5 725.9,292.5 704.4,303.1" fill="#9a9a9a" stroke="#9a9a9a" stroke-width="0.3" stroke-linejoin="round" fill-opacity="0.93" stroke-opacity="0.75"/>
<polygon points="704.4,303.1 687.1,292.1 708.5,281.7 725.9,292.5" fill="#8f8f8f" fill-opacity="0.93"/>
<polygon points="687.1,292.1 687.1,292.1 708.5,281.7 709.2,293.0 697.5,298.8" fill="#aaaaaa" fill-opacity="0.9"/>
<polygon points="708.5,281.7 725.9,292.5 725.9,292.5 716.1,297.3 709.2,293.0" fill="#9d9d9d" fill-opacity="0.9"/>
<line x1="708.5" y1="281.7" x2="709.2" y2="293.0" stroke="#868686" stroke-width="0.5" stroke-opacity="0.5"/>
<polygon points="704.4,303.1 687.1,292.1 708.5,281.7 725.9,292.5" fill="none" stroke="#cdcdcd" stroke-width="0.7" stroke-linejoin="round" stroke-opacity="0.55"/>
<polygon points="727.5,378.5 710.2,366.8 706.2,304.3 724.0,315.6" fill="#c8c8c8" stroke="#868686" stroke-width="1.1" stroke-linejoin="round" fill-opacity="0.93"/>
<polygon points="727.5,378.5 748.5,367.1 745.5,304.6 724.0,315.6" fill="#9a9a9a" stroke="#9a9a9a" stroke-width="0.3" stroke-linejoin="round" fill-opacity="0.93" stroke-opacity="0.75"/>
<polygon points="724.0,315.6 706.2,304.3 727.7,293.6 745.5,304.6" fill="#8f8f8f" fill-opacity="0.93"/>
<polygon points="706.2,304.3 706.2,304.3 727.7,293.6 728.3,305.0 716.6,310.9" fill="#aaaaaa" fill-opacity="0.9"/>
<polygon points="727.7,293.6 745.5,304.6 745.5,304.6 735.7,309.6 728.3,305.0" fill="#9d9d9d" fill-opacity="0.9"/>
<line x1="727.7" y1="293.6" x2="728.3" y2="305.0" stroke="#868686" stroke-width="0.5" stroke-opacity="0.5"/>
<polygon points="724.0,315.6 706.2,304.3 727.7,293.6 745.5,304.6" fill="none" stroke="#cdcdcd" stroke-width="0.7" stroke-linejoin="round" stroke-opacity="0.55"/>
<polygon points="747.1,391.9 729.3,379.8 725.8,316.8 744.1,328.4" fill="#c8c8c8" stroke="#868686" stroke-width="1.1" stroke-linejoin="round" fill-opacity="0.93"/>
<polygon points="747.1,391.9 768.1,380.1 765.7,317.2 744.1,328.4" fill="#9a9a9a" stroke="#9a9a9a" stroke-width="0.3" stroke-linejoin="round" fill-opacity="0.93" stroke-opacity="0.75"/>
<polygon points="744.1,328.4 725.8,316.8 747.4,305.8 765.7,317.2" fill="#8f8f8f" fill-opacity="0.93"/>
<polygon points="725.8,316.8 725.8,316.8 747.4,305.8 747.9,317.3 736.2,323.4" fill="#aaaaaa" fill-opacity="0.9"/>
<polygon points="747.4,305.8 765.7,317.2 765.7,317.2 755.9,322.3 747.9,317.3" fill="#9d9d9d" fill-opacity="0.9"/>
<line x1="747.4" y1="305.8" x2="747.9" y2="317.3" stroke="#868686" stroke-width="0.5" stroke-opacity="0.5"/>
<polygon points="744.1,328.4 725.8,316.8 747.4,305.8 765.7,317.2" fill="none" stroke="#cdcdcd" stroke-width="0.7" stroke-linejoin="round" stroke-opacity="0.55"/>
<polygon points="767.3,405.5 749.0,393.1 746.0,329.7 764.8,341.6" fill="#c8c8c8" stroke="#868686" stroke-width="1.1" stroke-linejoin="round" fill-opacity="0.93"/>
<polygon points="767.3,405.5 788.3,393.5 786.4,330.0 764.8,341.6" fill="#9a9a9a" stroke="#9a9a9a" stroke-width="0.3" stroke-linejoin="round" fill-opacity="0.93" stroke-opacity="0.75"/>
<polygon points="764.8,341.6 746.0,329.7 767.6,318.4 786.4,330.0" fill="#8f8f8f" fill-opacity="0.93"/>
<polygon points="746.0,329.7 746.0,329.7 767.6,318.4 768.0,330.0 756.3,336.2" fill="#aaaaaa" fill-opacity="0.9"/>
<polygon points="767.6,318.4 786.4,330.0 786.4,330.0 776.6,335.3 768.0,330.0" fill="#9d9d9d" fill-opacity="0.9"/>
<line x1="767.6" y1="318.4" x2="768.0" y2="330.0" stroke="#868686" stroke-width="0.5" stroke-opacity="0.5"/>
<polygon points="764.8,341.6 746.0,329.7 767.6,318.4 786.4,330.0" fill="none" stroke="#cdcdcd" stroke-width="0.7" stroke-linejoin="round" stroke-opacity="0.55"/>
<polygon points="788.0,419.6 769.2,406.8 766.7,342.9 786.0,355.2" fill="#c8c8c8" stroke="#868686" stroke-width="1.1" stroke-linejoin="round" fill-opacity="0.93"/>
<polygon points="788.0,419.6 809.0,407.2 807.7,343.3 786.0,355.2" fill="#9a9a9a" stroke="#9a9a9a" stroke-width="0.3" stroke-linejoin="round" fill-opacity="0.93" stroke-opacity="0.75"/>
<polygon points="786.0,355.2 766.7,342.9 788.4,331.3 807.7,343.3" fill="#8f8f8f" fill-opacity="0.93"/>
<polygon points="766.7,342.9 766.7,342.9 788.4,331.3 788.7,343.0 776.9,349.4" fill="#aaaaaa" fill-opacity="0.9"/>
<polygon points="788.4,331.3 807.7,343.3 807.7,343.3 797.9,348.7 788.7,343.0" fill="#9d9d9d" fill-opacity="0.9"/>
<line x1="788.4" y1="331.3" x2="788.7" y2="343.0" stroke="#868686" stroke-width="0.5" stroke-opacity="0.5"/>
<polygon points="786.0,355.2 766.7,342.9 788.4,331.3 807.7,343.3" fill="none" stroke="#cdcdcd" stroke-width="0.7" stroke-linejoin="round" stroke-opacity="0.55"/>
<polygon points="809.3,434.0 790.0,420.9 788.1,356.5 807.9,369.2" fill="#c8c8c8" stroke="#868686" stroke-width="1.1" stroke-linejoin="round" fill-opacity="0.93"/>
<polygon points="809.3,434.0 830.3,421.3 829.7,356.9 807.9,369.2" fill="#9a9a9a" stroke="#9a9a9a" stroke-width="0.3" stroke-linejoin="round" fill-opacity="0.93" stroke-opacity="0.75"/>
<polygon points="807.9,369.2 788.1,356.5 809.8,344.5 829.7,356.9" fill="#8f8f8f" fill-opacity="0.93"/>
<polygon points="788.1,356.5 788.1,356.5 809.8,344.5 810.0,356.3 798.2,362.9" fill="#aaaaaa" fill-opacity="0.9"/>
<polygon points="809.8,344.5 829.7,356.9 829.7,356.9 819.8,362.5 810.0,356.3" fill="#9d9d9d" fill-opacity="0.9"/>
<line x1="809.8" y1="344.5" x2="810.0" y2="356.3" stroke="#868686" stroke-width="0.5" stroke-opacity="0.5"/>
<polygon points="807.9,369.2 788.1,356.5 809.8,344.5 829.7,356.9" fill="none" stroke="#cdcdcd" stroke-width="0.7" stroke-linejoin="round" stroke-opacity="0.55"/>
<polygon points="831.1,448.9 811.3,435.4 810.0,370.5 830.5,383.5" fill="#c8c8c8" stroke="#868686" stroke-width="1.1" stroke-linejoin="round" fill-opacity="0.93"/>
<polygon points="831.1,448.9 852.3,435.8 852.2,370.9 830.5,383.5" fill="#9a9a9a" stroke="#9a9a9a" stroke-width="0.3" stroke-linejoin="round" fill-opacity="0.93" stroke-opacity="0.75"/>
<polygon points="830.5,383.5 810.0,370.5 831.7,358.2 852.2,370.9" fill="#8f8f8f" fill-opacity="0.93"/>
<polygon points="810.0,370.5 810.0,370.5 831.7,358.2 831.9,370.1 820.0,376.8" fill="#aaaaaa" fill-opacity="0.9"/>
<polygon points="831.7,358.2 852.2,370.9 852.2,370.9 842.3,376.6 831.9,370.1" fill="#9d9d9d" fill-opacity="0.9"/>
<line x1="831.7" y1="358.2" x2="831.9" y2="370.1" stroke="#868686" stroke-width="0.5" stroke-opacity="0.5"/>
<polygon points="830.5,383.5 810.0,370.5 831.7,358.2 852.2,370.9" fill="none" stroke="#cdcdcd" stroke-width="0.7" stroke-linejoin="round" stroke-opacity="0.55"/>
<polygon points="853.7,464.2 833.2,450.3 832.6,384.9 853.7,398.3" fill="#c8c8c8" stroke="#868686" stroke-width="1.1" stroke-linejoin="round" fill-opacity="0.93"/>
<polygon points="853.7,464.2 874.8,450.7 875.4,385.3 853.7,398.3" fill="#9a9a9a" stroke="#9a9a9a" stroke-width="0.3" stroke-linejoin="round" fill-opacity="0.93" stroke-opacity="0.75"/>
<polygon points="853.7,398.3 832.6,384.9 854.3,372.2 875.4,385.3" fill="#8f8f8f" fill-opacity="0.93"/>
<polygon points="832.6,384.9 832.6,384.9 854.3,372.2 854.3,384.2 842.5,391.2" fill="#aaaaaa" fill-opacity="0.9"/>
<polygon points="854.3,372.2 875.4,385.3 875.4,385.3 865.5,391.2 854.3,384.2" fill="#9d9d9d" fill-opacity="0.9"/>
<line x1="854.3" y1="372.2" x2="854.3" y2="384.2" stroke="#868686" stroke-width="0.5" stroke-opacity="0.5"/>
<polygon points="853.7,398.3 832.6,384.9 854.3,372.2 875.4,385.3" fill="none" stroke="#cdcdcd" stroke-width="0.7" stroke-linejoin="round" stroke-opacity="0.55"/>
<polygon points="876.8,479.9 855.8,465.6 855.9,399.7 877.6,413.5" fill="#c8c8c8" stroke="#868686" stroke-width="1.1" stroke-linejoin="round" fill-opacity="0.93"/>
<polygon points="876.8,479.9 898.0,466.1 899.3,400.1 877.6,413.5" fill="#9a9a9a" stroke="#cdcdcd" stroke-width="0.8" stroke-linejoin="round" fill-opacity="0.93" stroke-opacity="0.75"/>
<polygon points="877.6,413.5 855.9,399.7 877.6,386.7 899.3,400.1" fill="#8f8f8f" fill-opacity="0.93"/>
<polygon points="855.9,399.7 855.9,399.7 877.6,386.7 877.5,398.7 865.6,405.9" fill="#aaaaaa" fill-opacity="0.9"/>
<polygon points="877.6,386.7 899.3,400.1 899.3,400.1 889.4,406.2 877.5,398.7" fill="#9d9d9d" fill-opacity="0.9"/>
<line x1="877.6" y1="386.7" x2="877.5" y2="398.7" stroke="#868686" stroke-width="0.5" stroke-opacity="0.5"/>
<polygon points="877.6,413.5 855.9,399.7 877.6,386.7 899.3,400.1" fill="none" stroke="#cdcdcd" stroke-width="0.7" stroke-linejoin="round" stroke-opacity="0.55"/>
<polygon points="666.1,366.3 648.0,353.7 671.5,341.7 689.6,354.1" fill="#c9906a" stroke="#fff" stroke-width="2" stroke-linejoin="round"/>
<polygon points="684.6,379.3 666.1,366.3 689.6,354.1 708.2,366.7" fill="#c9906a" stroke="#fff" stroke-width="2" stroke-linejoin="round"/>
<polygon points="703.7,392.7 684.6,379.3 708.2,366.7 727.4,379.7" fill="#c9906a" stroke="#fff" stroke-width="2" stroke-linejoin="round"/>
<polygon points="723.2,406.4 703.7,392.7 727.4,379.7 747.0,393.1" fill="#c9906a" stroke="#fff" stroke-width="2" stroke-linejoin="round"/>
<polygon points="743.4,420.4 723.2,406.4 747.0,393.1 767.1,406.8" fill="#c9906a" stroke="#fff" stroke-width="2" stroke-linejoin="round"/>
<polygon points="764.0,434.9 743.4,420.4 767.1,406.8 787.9,420.9" fill="#c9906a" stroke="#fff" stroke-width="2" stroke-linejoin="round"/>
<polygon points="785.3,449.8 764.0,434.9 787.9,420.9 809.2,435.4" fill="#c9906a" stroke="#fff" stroke-width="2" stroke-linejoin="round"/>
<polygon points="807.2,465.1 785.3,449.8 809.2,435.4 831.1,450.3" fill="#c9906a" stroke="#fff" stroke-width="2" stroke-linejoin="round"/>
<polygon points="829.7,480.9 807.2,465.1 831.1,450.3 853.6,465.6" fill="#c9906a" stroke="#fff" stroke-width="2" stroke-linejoin="round"/>
<polygon points="852.8,497.1 829.7,480.9 853.6,465.6 876.8,481.4" fill="#c9906a" stroke="#fff" stroke-width="2" stroke-linejoin="round"/>
<polygon points="641.9,378.9 623.9,365.9 648.0,353.7 666.1,366.3" fill="#c9906a" stroke="#fff" stroke-width="2" stroke-linejoin="round"/>
<polygon points="660.4,392.2 641.9,378.9 666.1,366.3 684.6,379.3" fill="#c9906a" stroke="#fff" stroke-width="2" stroke-linejoin="round"/>
<polygon points="679.4,405.9 660.4,392.2 684.6,379.3 703.7,392.7" fill="#c9906a" stroke="#fff" stroke-width="2" stroke-linejoin="round"/>
<polygon points="698.9,420.0 679.4,405.9 703.7,392.7 723.2,406.4" fill="#c9906a" stroke="#fff" stroke-width="2" stroke-linejoin="round"/>
<polygon points="718.9,434.5 698.9,420.0 723.2,406.4 743.4,420.4" fill="#c9906a" stroke="#fff" stroke-width="2" stroke-linejoin="round"/>
<polygon points="739.5,449.3 718.9,434.5 743.4,420.4 764.0,434.9" fill="#c9906a" stroke="#fff" stroke-width="2" stroke-linejoin="round"/>
<polygon points="760.7,464.6 739.5,449.3 764.0,434.9 785.3,449.8" fill="#c9906a" stroke="#fff" stroke-width="2" stroke-linejoin="round"/>
<polygon points="782.5,480.4 760.7,464.6 785.3,449.8 807.2,465.1" fill="#c9906a" stroke="#fff" stroke-width="2" stroke-linejoin="round"/>
<polygon points="805.0,496.6 782.5,480.4 807.2,465.1 829.7,480.9" fill="#c9906a" stroke="#fff" stroke-width="2" stroke-linejoin="round"/>
<polygon points="828.2,513.3 805.0,496.6 829.7,480.9 852.8,497.1" fill="#c9906a" stroke="#fff" stroke-width="2" stroke-linejoin="round"/>
<line x1="623.9" y1="365.9" x2="595.9" y2="93.3" stroke="#111" stroke-width="1.4"/>
<line x1="623.9" y1="365.9" x2="828.2" y2="513.3" stroke="#111" stroke-width="1.4"/>
<line x1="828.2" y1="513.3" x2="1046.6" y2="370.0" stroke="#111" stroke-width="1.4"/>
<line x1="623.9" y1="365.9" x2="626.6" y2="364.6" stroke="#111" stroke-width="1.3"/>
<text transform="matrix(0.8555 -0.4355 0.0982 0.9550 622.4 374.9)" font-size="23" text-anchor="end" y="0" font-family="'Liberation Serif',serif" fill="#111">0.0</text>
<line x1="621.4" y1="341.4" x2="623.2" y2="340.5" stroke="#111" stroke-width="1.3"/>
<line x1="618.8" y1="316.3" x2="621.5" y2="315.0" stroke="#111" stroke-width="1.3"/>
<text transform="matrix(0.8649 -0.4167 0.0982 0.9550 617.3 325.1)" font-size="23" text-anchor="end" y="0" font-family="'Liberation Serif',serif" fill="#111">0.2</text>
<line x1="616.2" y1="290.6" x2="618.0" y2="289.7" stroke="#111" stroke-width="1.3"/>
<line x1="613.5" y1="264.3" x2="616.2" y2="263.1" stroke="#111" stroke-width="1.3"/>
<text transform="matrix(0.8743 -0.3965 0.0982 0.9550 611.9 273.1)" font-size="23" text-anchor="end" y="0" font-family="'Liberation Serif',serif" fill="#111">0.4</text>
<line x1="610.7" y1="237.4" x2="612.6" y2="236.6" stroke="#111" stroke-width="1.3"/>
<line x1="607.9" y1="209.9" x2="610.7" y2="208.8" stroke="#111" stroke-width="1.3"/>
<text transform="matrix(0.8838 -0.3747 0.0982 0.9550 606.3 218.7)" font-size="23" text-anchor="end" y="0" font-family="'Liberation Serif',serif" fill="#111">0.6</text>
<line x1="605.0" y1="181.8" x2="606.9" y2="181.0" stroke="#111" stroke-width="1.3"/>
<line x1="602.1" y1="153.0" x2="604.8" y2="151.9" stroke="#111" stroke-width="1.3"/>
<text transform="matrix(0.8934 -0.3514 0.0982 0.9550 600.4 161.7)" font-size="23" text-anchor="end" y="0" font-family="'Liberation Serif',serif" fill="#111">0.8</text>
<line x1="599.0" y1="123.5" x2="600.9" y2="122.8" stroke="#111" stroke-width="1.3"/>
<line x1="595.9" y1="93.3" x2="598.7" y2="92.2" stroke="#111" stroke-width="1.3"/>
<text transform="matrix(0.9029 -0.3262 0.0982 0.9550 594.3 101.9)" font-size="23" text-anchor="end" y="0" font-family="'Liberation Serif',serif" fill="#111">1.0</text>
<text transform="matrix(-0.1023 -0.9948 0.9157 -0.4019 568.0 258.0)" font-size="20.8" text-anchor="middle" y="0" font-family="'Liberation Serif',serif" fill="#111">Crystalline Fraction</text>
<line x1="805.0" y1="496.6" x2="802.5" y2="498.2" stroke="#111" stroke-width="1.3"/>
<text transform="matrix(0.8432 -0.5376 0.7300 0.6800 801.3 499.0)" font-size="20" text-anchor="end" y="7.3" font-family="'Liberation Serif',serif" fill="#111">3</text>
<line x1="760.7" y1="464.6" x2="758.1" y2="466.2" stroke="#111" stroke-width="1.3"/>
<text transform="matrix(0.8561 -0.5169 0.7300 0.6800 756.9 466.9)" font-size="20" text-anchor="end" y="7.3" font-family="'Liberation Serif',serif" fill="#111">9</text>
<line x1="718.9" y1="434.5" x2="716.3" y2="436.0" stroke="#111" stroke-width="1.3"/>
<text transform="matrix(0.8675 -0.4974 0.7300 0.6800 715.1 436.7)" font-size="20" text-anchor="end" y="7.3" font-family="'Liberation Serif',serif" fill="#111">15</text>
<line x1="679.4" y1="405.9" x2="676.7" y2="407.4" stroke="#111" stroke-width="1.3"/>
<text transform="matrix(0.8778 -0.4791 0.7300 0.6800 675.5 408.0)" font-size="20" text-anchor="end" y="7.3" font-family="'Liberation Serif',serif" fill="#111">21</text>
<line x1="641.9" y1="378.9" x2="639.3" y2="380.3" stroke="#111" stroke-width="1.3"/>
<text transform="matrix(0.8870 -0.4619 0.7300 0.6800 638.0 381.0)" font-size="20" text-anchor="end" y="7.3" font-family="'Liberation Serif',serif" fill="#111">27</text>
<text transform="matrix(-0.8109 -0.5852 0.8675 -0.4974 679.8 460.7)" font-size="20" text-anchor="middle" y="6" font-family="'Liberation Serif',serif" fill="#111">x(μm)</text>
<line x1="852.8" y1="497.1" x2="855.3" y2="498.8" stroke="#111" stroke-width="1.3"/>
<text transform="matrix(0.8192 0.5736 -0.8361 0.5485 855.7 499.1)" font-size="19" text-anchor="start" y="6" font-family="'Liberation Serif',serif" fill="#111">3</text>
<line x1="900.1" y1="466.1" x2="902.6" y2="467.7" stroke="#111" stroke-width="1.3"/>
<text transform="matrix(0.8343 0.5514 -0.8361 0.5485 903.1 468.0)" font-size="19" text-anchor="start" y="6" font-family="'Liberation Serif',serif" fill="#111">9</text>
<line x1="944.8" y1="436.8" x2="947.4" y2="438.4" stroke="#111" stroke-width="1.3"/>
<text transform="matrix(0.8477 0.5305 -0.8361 0.5485 947.8 438.6)" font-size="19" text-anchor="start" y="6" font-family="'Liberation Serif',serif" fill="#111">15</text>
<line x1="987.2" y1="409.0" x2="989.8" y2="410.5" stroke="#111" stroke-width="1.3"/>
<text transform="matrix(0.8597 0.5108 -0.8361 0.5485 990.2 410.8)" font-size="19" text-anchor="start" y="6" font-family="'Liberation Serif',serif" fill="#111">21</text>
<line x1="1027.3" y1="382.7" x2="1029.9" y2="384.1" stroke="#111" stroke-width="1.3"/>
<text transform="matrix(0.8704 0.4924 -0.8361 0.5485 1030.4 384.4)" font-size="19" text-anchor="start" y="6" font-family="'Liberation Serif',serif" fill="#111">27</text>
<text transform="matrix(0.8361 -0.5485 0.8477 0.5305 981.0 461.0)" font-size="20" text-anchor="middle" y="6" font-family="'Liberation Serif',serif" fill="#111">y(μm)</text>
<text transform="matrix(0.7372 0.5162 -0.4061 0.8032 744.0 420.0)" font-size="29" text-anchor="middle" y="9.5" font-family="'Liberation Serif',serif" fill="#111">0.00</text>
<text transform="matrix(0.7649 0.4742 -0.4061 0.8032 790.0 331.5)" font-size="29" text-anchor="middle" y="9.5" font-family="'Liberation Serif',serif" fill="#111">0.25</text>
<text transform="matrix(0.7906 0.4301 -0.4061 0.8032 835.0 240.0)" font-size="29" text-anchor="middle" y="9.5" font-family="'Liberation Serif',serif" fill="#111">0.50</text>
<text transform="matrix(0.8138 0.3843 -0.4061 0.8032 879.0 146.5)" font-size="29" text-anchor="middle" y="9.5" font-family="'Liberation Serif',serif" fill="#111">0.75</text>
<text transform="matrix(0.8345 0.3372 -0.4061 0.8032 922.5 55.0)" font-size="29" text-anchor="middle" y="9.5" font-family="'Liberation Serif',serif" fill="#111">1.00</text>
</g>
</svg>
</body></html>
